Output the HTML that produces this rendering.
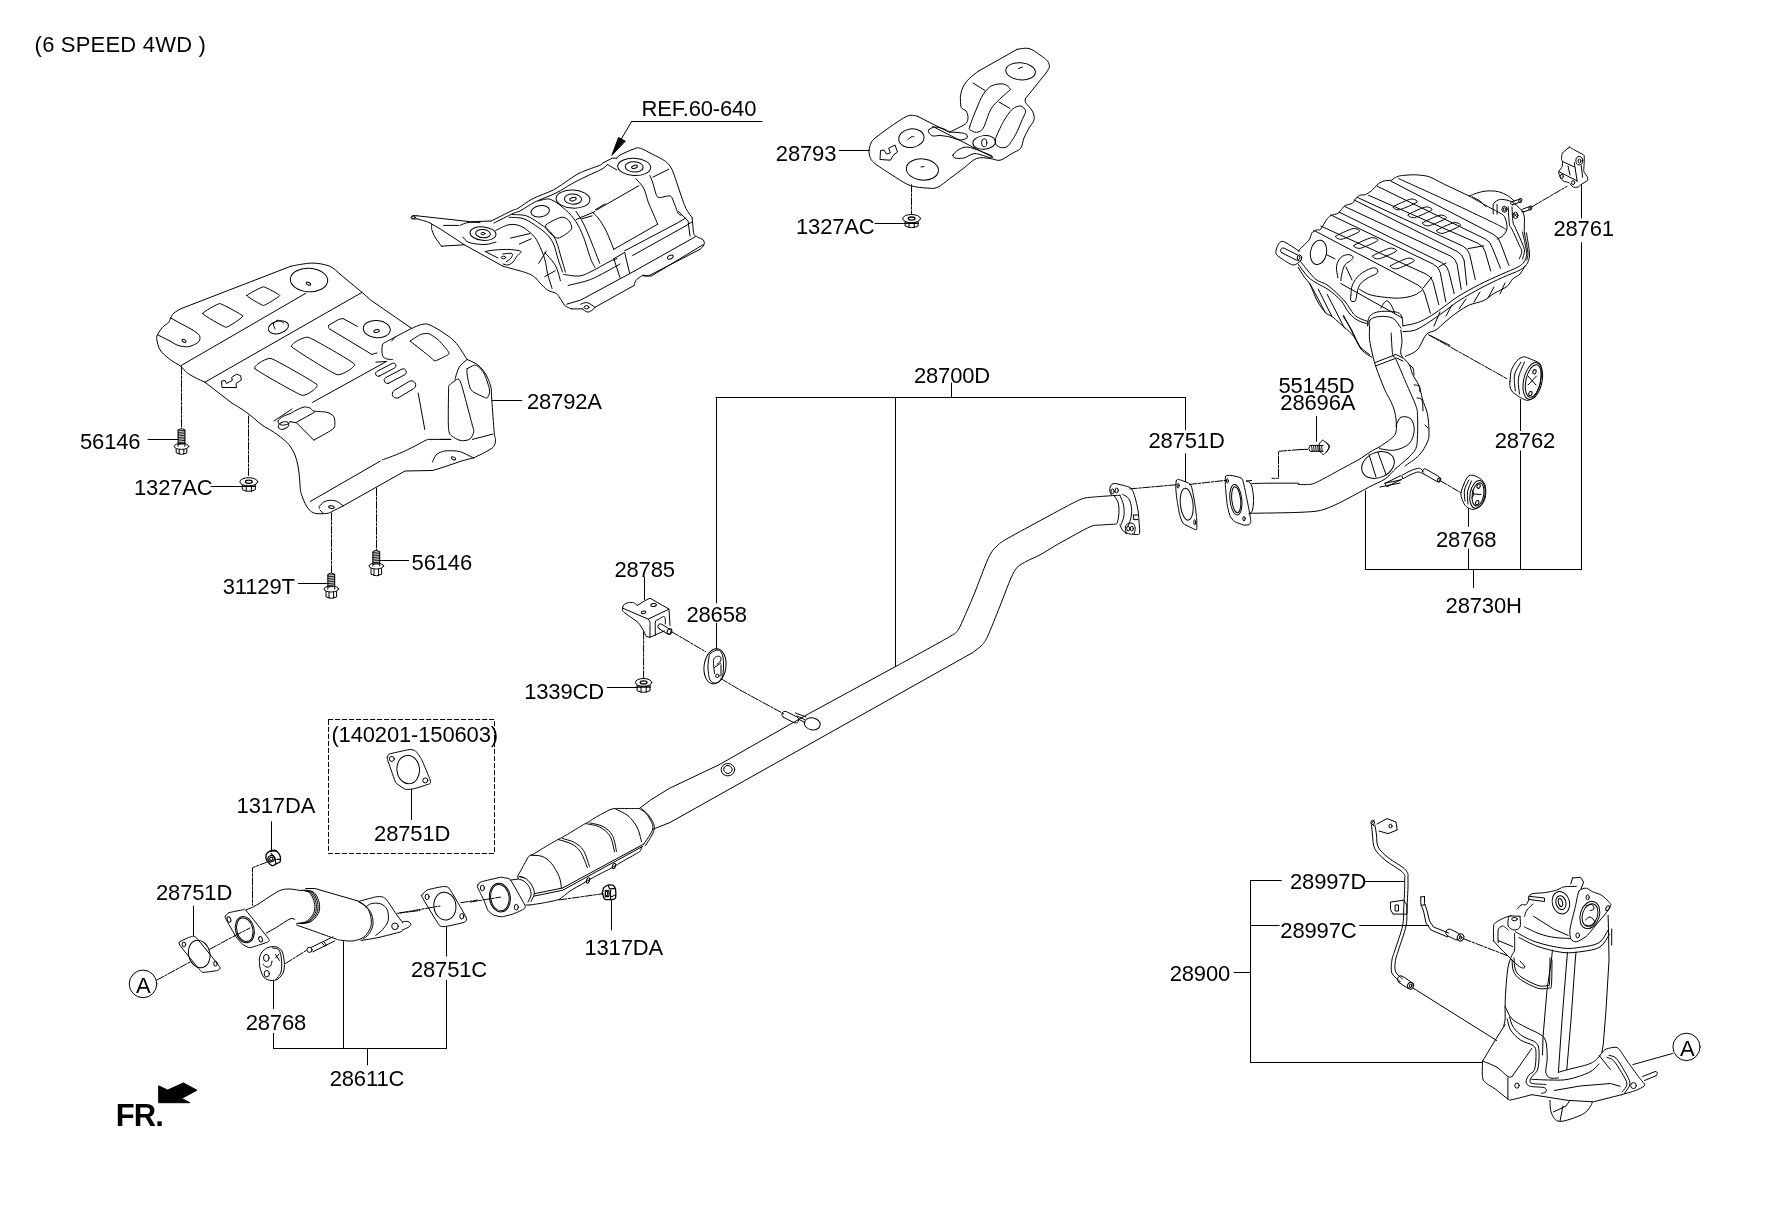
<!DOCTYPE html>
<html><head><meta charset="utf-8"><style>
html,body{margin:0;padding:0;background:#fff;}
svg{display:block;filter:grayscale(100%);}
text{font-family:"Liberation Sans",sans-serif;font-size:22px;letter-spacing:-0.15px;fill:#000;}
</style></head><body>
<svg width="1772" height="1211" viewBox="0 0 1772 1211">
<rect width="1772" height="1211" fill="#fff"/>
<g fill="none" stroke="#000" stroke-width="1" stroke-linejoin="round" stroke-linecap="round">
<ellipse cx="143" cy="983.9" rx="13.8" ry="13.8"/>
<ellipse cx="1686.5" cy="1046.9" rx="13.6" ry="13.7"/>
<polygon points="159,1086 167.6,1090.1 183.4,1082.9 196.9,1090.2 181.7,1098.4 189.9,1102.7 159,1102.7" fill="#000"/>
<line x1="839.4" y1="150.5" x2="869" y2="150.5"/>
<line x1="875" y1="223.5" x2="905.4" y2="223.5"/>
<line x1="911.5" y1="184.7" x2="911.5" y2="214.4" stroke-dasharray="7.5,1.5,2.5,1.5"/>
<line x1="631.6" y1="121.5" x2="762" y2="121.5"/>
<line x1="631.6" y1="121.5" x2="613" y2="153"/>
<path d="M612,155 L618.5,137.5 L625,141 Z" fill="#000"/>
<line x1="1581.5" y1="184.4" x2="1581.5" y2="218"/>
<line x1="1581.5" y1="242.7" x2="1581.5" y2="569.5"/>
<line x1="492" y1="400.5" x2="521.8" y2="400.5"/>
<line x1="148" y1="439.5" x2="178" y2="439.5"/>
<line x1="181.5" y1="367" x2="181.5" y2="428.3" stroke-dasharray="7.5,1.5,2.5,1.5"/>
<line x1="211" y1="486.5" x2="242" y2="486.5"/>
<line x1="248.5" y1="416" x2="248.5" y2="477" stroke-dasharray="7.5,1.5,2.5,1.5"/>
<line x1="380.1" y1="560.5" x2="408.6" y2="560.5"/>
<line x1="376.5" y1="488" x2="376.5" y2="550" stroke-dasharray="7.5,1.5,2.5,1.5"/>
<line x1="298.4" y1="583.5" x2="328" y2="583.5"/>
<line x1="331.5" y1="513" x2="331.5" y2="572.6" stroke-dasharray="7.5,1.5,2.5,1.5"/>
<line x1="716" y1="397.5" x2="1185.4" y2="397.5"/>
<line x1="951.5" y1="383" x2="951.5" y2="397.5"/>
<line x1="716.5" y1="397.5" x2="716.5" y2="603"/>
<line x1="895.5" y1="397.5" x2="895.5" y2="666.6"/>
<line x1="1185.5" y1="397.5" x2="1185.5" y2="429.8"/>
<line x1="1185.5" y1="453.8" x2="1185.5" y2="481.6"/>
<line x1="1316.5" y1="416.3" x2="1316.5" y2="441.3"/>
<line x1="1520.5" y1="399.4" x2="1520.5" y2="430.6"/>
<line x1="1520.5" y1="450.9" x2="1520.5" y2="569.5"/>
<line x1="1468.5" y1="508.4" x2="1468.5" y2="526.4"/>
<line x1="1468.5" y1="549.1" x2="1468.5" y2="569.5"/>
<line x1="1365.1" y1="569.5" x2="1581.5" y2="569.5"/>
<line x1="1365.5" y1="490.9" x2="1365.5" y2="569.5"/>
<line x1="1473.5" y1="569.5" x2="1473.5" y2="587.4"/>
<line x1="644.5" y1="577.2" x2="644.5" y2="599.6"/>
<line x1="716.5" y1="623.2" x2="716.5" y2="649.3"/>
<line x1="607.2" y1="687.5" x2="637.3" y2="687.5"/>
<line x1="643.6" y1="631.8" x2="643.6" y2="678.6" stroke-dasharray="7.5,1.5,2.5,1.5"/>
<line x1="411.5" y1="789.3" x2="411.5" y2="819.6"/>
<line x1="271.5" y1="821.7" x2="271.5" y2="851.4"/>
<polyline points="267.3,862 252.5,867.7 252.5,905.1" stroke-dasharray="7.5,1.5,2.5,1.5"/>
<line x1="193.5" y1="906.1" x2="193.5" y2="935.8"/>
<line x1="446.5" y1="927.3" x2="446.5" y2="956.1"/>
<line x1="446.5" y1="980.3" x2="446.5" y2="1048.5"/>
<line x1="611.5" y1="899.3" x2="611.5" y2="929.8"/>
<line x1="273.5" y1="980.3" x2="273.5" y2="1008.5"/>
<line x1="273.5" y1="1033.4" x2="273.5" y2="1048.5"/>
<line x1="273.5" y1="1048.5" x2="446.5" y2="1048.5"/>
<line x1="343.5" y1="941.6" x2="343.5" y2="1048.5"/>
<line x1="367.5" y1="1048.5" x2="367.5" y2="1065"/>
<line x1="1250.5" y1="880.8" x2="1250.5" y2="1062.5"/>
<line x1="1250.5" y1="880.5" x2="1281.3" y2="880.5"/>
<line x1="1250.5" y1="925.5" x2="1279.2" y2="925.5"/>
<line x1="1234.1" y1="972.5" x2="1250.5" y2="972.5"/>
<line x1="1250.5" y1="1062.5" x2="1482" y2="1062.5"/>
<line x1="1365" y1="881.5" x2="1403.7" y2="881.5"/>
<line x1="1359.7" y1="925.5" x2="1428.4" y2="925.5"/>
<polygon points="328.5,719.5 494.5,719.5 494.5,853.5 328.5,853.5" stroke-dasharray="4.3,2.7"/>
<path d="M1514.5,933.6 C1514.5,936.3 1515,946.4 1514.5,950 C1514,953.6 1512.9,952.4 1511.8,955.4 C1510.7,958.4 1508.9,962.2 1507.9,968 C1506.9,973.8 1506.3,983.6 1505.8,990 C1505.3,996.4 1505.2,1001.5 1505.1,1006.3 C1505,1011.1 1505.3,1015.6 1505.1,1018.9 C1504.9,1022.2 1503.9,1024.8 1503.7,1026"/>
<polyline points="1608.1,915.4 1608.6,935 1609,960 1606,1010 1603.3,1044.2 1601.9,1052.6"/>
<polyline points="1611.7,929 1611.7,945"/>
<path d="M1515.4,931.8 C1518.7,933.5 1527.5,939.1 1535.4,941.8 C1543.3,944.5 1555.1,947.2 1562.7,948.1 C1570.3,949 1574.8,948.1 1580.8,947.2 C1586.8,946.3 1594.5,945.6 1599,942.7 C1603.5,939.8 1606.6,932.1 1608.1,930"/>
<path d="M1519,937.5 C1522.2,939 1530.7,944 1538,946.5 C1545.3,949 1555.7,951.7 1563,952.5 C1570.3,953.3 1575.8,952.4 1582,951.5 C1588.2,950.6 1595.4,949.9 1600,947 C1604.6,944.1 1607.9,936.2 1609.5,934"/>
<path d="M1524.5,927 C1527.1,928.2 1534.9,932.2 1540,934 C1545.1,935.8 1550,936.8 1555,937.5 C1560,938.2 1567.5,938.3 1570,938.5"/>
<path d="M1579,890.9 C1580.3,888.8 1584.7,888.1 1586.3,888.2 C1587.9,888.3 1590.9,891 1592.7,891.8 C1594.5,892.6 1599.6,893.9 1601.7,895.4 C1603.8,896.9 1610.3,902.5 1610.8,904.5 C1611.3,906.5 1607.9,910.5 1606.3,912.7 C1604.7,914.9 1599.5,920.8 1597.2,923.6 C1594.9,926.4 1588.7,934.2 1586.3,936.3 C1583.9,938.4 1578.1,941.5 1576.3,941.8 C1574.5,942.1 1571.5,940.5 1570.8,939 C1570.1,937.5 1569.5,932.8 1570,929 C1570.5,925.2 1574.4,910.7 1575.4,906.3 C1576.5,901.9 1577.7,893 1579,890.9Z"/>
<ellipse cx="1589.8" cy="915" rx="9.5" ry="14" transform="rotate(18 1589.8 915)"/>
<ellipse cx="1590" cy="915" rx="7.5" ry="11.5" transform="rotate(18 1590 915)"/>
<path d="M1586,906 C1587,905.8 1590.7,904 1592,904.5 C1593.3,905 1594.3,908 1594,909 C1593.7,910 1590.7,910.2 1590,910.5"/>
<path d="M1585.5,920 C1586.2,919.5 1588.4,916.7 1590,917 C1591.6,917.3 1594.8,920.5 1595,922 C1595.2,923.5 1592.5,925.5 1591,926 C1589.5,926.5 1586.8,925.2 1586,925"/>
<ellipse cx="1587.7" cy="897.3" rx="1.6" ry="2.5"/>
<ellipse cx="1577.7" cy="935.4" rx="1.8" ry="2.6"/>
<ellipse cx="1607.6" cy="908.2" rx="1.5" ry="2.6" transform="rotate(30 1607.6 908.2)"/>
<path d="M1529.1,896.3 C1529.7,895.8 1530.1,894.2 1532.7,893.6 C1535.3,893 1541,893.2 1544.5,892.7 C1548,892.2 1551.2,891.5 1553.6,890.9 C1556,890.3 1557.2,889.8 1559,889.1 C1560.8,888.4 1561.6,887.2 1564.5,886.8 C1567.4,886.3 1574.3,886.5 1576.3,886.4"/>
<ellipse cx="1560.9" cy="902.7" rx="8.6" ry="11.4" transform="rotate(-15 1560.9 902.7)"/>
<ellipse cx="1560.9" cy="902.7" rx="5" ry="7" transform="rotate(-15 1560.9 902.7)"/>
<ellipse cx="1560.5" cy="902.5" rx="2" ry="4.2" transform="rotate(-15 1560.5 902.5)"/>
<polyline points="1572.5,878 1580.5,877.3 1583.6,882 1581,889.1"/>
<polyline points="1572.5,878 1570.8,884"/>
<polygon points="1529.1,896.3 1544.5,898 1544.5,901.5 1529.1,899.5"/>
<path d="M1517.3,909.1 C1517.9,908.4 1519.5,905.8 1521,905 C1522.5,904.2 1525,905.5 1526.3,904.5 C1527.6,903.5 1528.5,899.9 1529,899"/>
<path d="M1524.5,916.3 C1524.9,915.2 1525.6,912 1527,910 C1528.4,908 1532,905 1533,904"/>
<polyline points="1533.6,916.3 1553.6,929 1568.1,935.4"/>
<ellipse cx="1514.5" cy="919.1" rx="2.8" ry="1.6"/>
<path d="M1508.5,917 C1508.5,918.5 1507.3,923.8 1508.2,926 C1509.1,928.2 1512,929.8 1514,930 C1516,930.2 1519,929.3 1520,927 C1521,924.7 1520,918.1 1520,916.3"/>
<polyline points="1510,915.9 1520,916.3"/>
<path d="M1493.6,940.9 C1493.6,938.5 1493.3,929.3 1493.6,926.3 C1493.9,923.3 1493.6,924.2 1495.5,922.7 C1497.4,921.2 1502.4,918.6 1505,917.5 C1507.6,916.4 1509.9,916.2 1510.9,915.9"/>
<path d="M1498.2,942.7 C1498.2,940.6 1497.6,932.7 1498.2,930 C1498.8,927.3 1500.8,926.8 1501.8,926.3 C1502.8,925.8 1503.4,926.2 1504.5,926.8 C1505.6,927.4 1507.6,929.5 1508.2,930"/>
<polyline points="1498.2,940.5 1512.5,946.5"/>
<path d="M1493.6,940.9 C1494.7,942.1 1497.8,945.6 1500,948 C1502.2,950.4 1504.7,952.7 1507,955 C1509.3,957.3 1511.7,959.9 1514,962 C1516.3,964.1 1519.2,966.7 1521,967.5 C1522.8,968.3 1525.2,968.1 1525,967 C1524.8,965.9 1520.8,962 1520,961"/>
<path d="M1512.1,960 C1512.3,961.9 1512.1,967.9 1513.5,971.2 C1514.9,974.5 1516.5,976.8 1520.5,979.6 C1524.5,982.4 1532.7,986.7 1537.4,988.1 C1542.1,989.5 1546.3,988.6 1548.6,988.1 C1550.9,987.6 1550.8,990 1551.4,985.3 C1552,980.6 1551.9,964.2 1552,960"/>
<path d="M1514,958 C1514.2,960 1514.2,966.8 1515.5,970 C1516.8,973.2 1518.2,974.9 1522,977.5 C1525.8,980.1 1533.8,984.2 1538,985.5 C1542.2,986.8 1545.6,985.9 1547.5,985.5 C1549.4,985.1 1549.1,987.6 1549.5,983 C1549.9,978.4 1549.9,962.2 1550,958"/>
<polyline points="1551.4,960 1547,990 1543,1037.2 1542.5,1055"/>
<polyline points="1566.8,960 1562,1020 1558.4,1072.3"/>
<polyline points="1575.3,960 1571,1020 1566.8,1069.5"/>
<polyline points="1551.4,960 1552.5,950"/>
<polyline points="1566.8,960 1567.5,952.5"/>
<polyline points="1575.3,960 1576,952"/>
<path d="M1505.1,1006.3 C1506.3,1008.4 1508.6,1015.4 1512.1,1018.9 C1515.6,1022.4 1521.4,1024.8 1526.1,1027.4 C1530.8,1030 1536.9,1032.1 1540.2,1034.4 C1543.5,1036.7 1544.6,1037.4 1545.8,1041.4 C1547,1045.4 1547.2,1053.1 1547.2,1058.2 C1547.2,1063.3 1545.3,1069 1545.8,1072.3 C1546.3,1075.6 1547.9,1077 1550,1077.9 C1552.1,1078.8 1557,1077.9 1558.4,1077.9"/>
<path d="M1507.2,1018.9 C1507.8,1020.8 1508.5,1026.7 1510.7,1030.2 C1512.9,1033.7 1516.8,1037.4 1520.5,1040 C1524.2,1042.6 1530.6,1043.5 1533.2,1045.6 C1535.8,1047.7 1535.8,1048.6 1536,1052.6 C1536.2,1056.6 1535.8,1065.8 1534.6,1069.5 C1533.4,1073.2 1530.3,1073 1528.9,1075.1 C1527.5,1077.2 1525.8,1080.2 1526.1,1082.1 C1526.3,1084 1527.4,1085.4 1530.4,1086.3 C1533.5,1087.2 1541.8,1086.8 1544.4,1087.7 C1547,1088.6 1546.3,1091 1545.8,1091.9 C1545.3,1092.8 1542.3,1093.1 1541.6,1093.3"/>
<path d="M1509.5,1017 C1510.2,1018.8 1511.2,1024.2 1513.5,1027.5 C1515.8,1030.8 1519.3,1034 1523,1036.5 C1526.7,1039 1533.1,1040.1 1535.8,1042.5 C1538.5,1044.9 1538.7,1046.6 1539,1051 C1539.3,1055.4 1539,1064.8 1537.8,1069 C1536.6,1073.2 1533.3,1074.5 1532,1076.5 C1530.7,1078.5 1529.9,1079.8 1530,1081 C1530.1,1082.2 1529.8,1082.9 1532.5,1083.5 C1535.2,1084.1 1543.8,1084.3 1546,1084.5"/>
<path d="M1558.4,1072.3 C1560,1071.8 1563.1,1070.9 1568.2,1069.5 C1573.3,1068.1 1584.4,1065.8 1589.3,1063.9 C1594.2,1062 1595.6,1060.1 1597.7,1058.2 C1599.8,1056.3 1601.2,1053.5 1601.9,1052.6"/>
<path d="M1531.8,1079.3 C1534.8,1079.4 1543.9,1080 1550,1080 C1556.1,1080 1561.7,1080.6 1568.2,1079.3 C1574.8,1078 1584.2,1074.9 1589.3,1072.3 C1594.4,1069.7 1597.5,1065.3 1599.1,1063.9"/>
<polyline points="1482.6,1061.1 1495.3,1040 1505.1,1024.6"/>
<path d="M1482.6,1061.1 C1482.6,1063.9 1481.9,1074.2 1482.6,1077.9 C1483.3,1081.6 1484.7,1081.6 1486.8,1083.5 C1488.9,1085.4 1491.8,1086.5 1495.3,1089.1 C1498.8,1091.7 1505.1,1097.2 1507.9,1099 C1510.7,1100.8 1508.1,1100.3 1512.1,1099.6 C1516.1,1098.9 1528.5,1095.5 1531.8,1094.7"/>
<path d="M1482.6,1061.1 C1483.8,1061.6 1487.4,1062.8 1490,1064 C1492.6,1065.2 1495.1,1066 1498.1,1068.1 C1501.1,1070.2 1505.6,1075.1 1507.9,1076.5 C1510.2,1077.9 1511.4,1076.5 1512.1,1076.5"/>
<polyline points="1512.1,1076.5 1531.8,1048.4"/>
<line x1="1507.9" y1="1077.9" x2="1507.9" y2="1099"/>
<ellipse cx="1517" cy="1085.6" rx="2.2" ry="2.6"/>
<path d="M1601.9,1052.6 C1602.4,1052.2 1604.3,1049.7 1606.1,1049.1 C1607.9,1048.5 1614.9,1046.3 1617.4,1047.7 C1619.9,1049.1 1624.8,1057.7 1627.2,1061.1 C1629.7,1064.5 1636.4,1073.9 1638.4,1076.5 C1640.4,1079.1 1643.3,1082.4 1644,1083.5 C1644.7,1084.6 1645,1085.5 1644,1086.3 C1643,1087.1 1638.2,1089.5 1635.6,1090.5 C1633,1091.5 1623.2,1094.2 1621.6,1094.7"/>
<path d="M1609,1055.4 C1610.2,1055.9 1613.4,1055.6 1616,1058.2 C1618.6,1060.8 1622.1,1066.7 1624.4,1070.9 C1626.7,1075.1 1630,1079.8 1630,1083.5 C1630,1087.2 1625.3,1091.7 1624.4,1093.3"/>
<path d="M1607,1057.5 C1608.1,1058 1611.1,1058 1613.5,1060.5 C1615.9,1063 1619.2,1068.6 1621.5,1072.5 C1623.8,1076.4 1626.9,1080.8 1627,1084 C1627.1,1087.2 1622.8,1090.7 1622,1092"/>
<ellipse cx="1633.5" cy="1085.6" rx="2.8" ry="3"/>
<polyline points="1642.6,1076.5 1655.3,1071.5"/>
<path d="M1655.3,1071.5 C1655.7,1071.7 1657.4,1072.1 1657.5,1072.8 C1657.6,1073.5 1656.2,1075.3 1656,1075.8"/>
<polyline points="1656,1075.8 1644.5,1080.5"/>
<polyline points="1599.1,1055.4 1610.4,1069.5"/>
<polyline points="1531.8,1094.7 1568.2,1100.4 1593.5,1101.8 1621.6,1094.7"/>
<polyline points="1554.2,1090.5 1580,1086 1610.4,1083.5 1620.2,1086.3"/>
<path d="M1550,1100.4 C1550.2,1102.5 1549.8,1109.5 1551.4,1113 C1553,1116.5 1554.7,1121.2 1559.8,1121.4 C1564.9,1121.6 1577.1,1117 1582.3,1114.4 C1587.5,1111.8 1589.1,1108.1 1590.7,1106 C1592.3,1103.9 1591.9,1102.5 1592.1,1101.8"/>
<polyline points="1553.5,1112 1566,1106 1570,1100.4"/>
<polyline points="1560,1121 1563,1106"/>
<line x1="1632.8" y1="1064.6" x2="1672.5" y2="1053.5"/>
<line x1="1463.8" y1="938.8" x2="1507.9" y2="955.9" stroke-dasharray="7.5,1.5,2.5,1.5"/>
<line x1="1413.3" y1="988.2" x2="1496.8" y2="1040.6"/>
<polyline points="1374,820 1371.5,823.5 1374,826"/>
<ellipse cx="1372.7" cy="822.5" rx="1.8" ry="2.2"/>
<polyline points="1377,824 1387,818.6 1396,822 1397.2,830 1388,833.6 1379,831"/>
<ellipse cx="1390.5" cy="826" rx="1.6" ry="1.8"/>
<path d="M1371.5,825 C1371.7,826.7 1372,831.1 1372.5,835 C1373,838.9 1372.6,844.4 1374.7,848.6 C1376.8,852.8 1380.3,856 1385,860 C1389.7,864 1399.3,868.8 1402.6,872.3 C1405.9,875.8 1404.5,874.7 1404.7,880.8 C1404.9,886.9 1404.1,901.3 1403.7,908.8 C1403.3,916.3 1404,919 1402.6,925.9 C1401.1,932.8 1396.8,944.3 1395,950 C1393.2,955.7 1392.4,956.4 1391.9,960.3 C1391.4,964.2 1390.5,969.6 1391.9,973.2 C1393.3,976.8 1399,980.3 1400.4,981.7"/>
<path d="M1375,825 C1375.2,826.7 1376,831.3 1376.5,835 C1377,838.7 1376.3,843.2 1378.2,847 C1380.1,850.8 1383.4,853.7 1388,857.5 C1392.6,861.3 1402.3,866.1 1405.6,870 C1408.9,873.9 1407.8,874.3 1408,880.8 C1408.2,887.3 1407.3,901.3 1407,908.8 C1406.7,916.3 1407.4,919.1 1406,926 C1404.6,932.9 1400.2,944.3 1398.5,950 C1396.8,955.7 1396,956.7 1395.5,960.3 C1395,963.9 1394.3,968.4 1395.5,971.5 C1396.7,974.6 1401.3,977.8 1402.5,979"/>
<polygon points="1390.8,902 1403.7,900.2 1406.9,905 1406.9,914.1 1393,914.1 1390.8,910"/>
<polygon points="1395.5,905 1398.5,905 1398.5,911 1395.5,911"/>
<path d="M1399.0,982.5 L1406.5,987.5 A3.6,3.6 0 0 0 1410.5,981.5 L1403.0,976.5 A3.6,3.6 0 0 0 1399.0,982.5 Z"/>
<ellipse cx="1410.5" cy="985.7" rx="3" ry="3.4" transform="rotate(30 1410.5 985.7)"/>
<ellipse cx="1410.6" cy="985.8" rx="1.3" ry="1.6"/>
<polyline points="1420.8,897 1420.8,904 1423.5,911 1426,923 1431,930 1447.7,937"/>
<polyline points="1424.5,896.5 1424.5,903.5 1427,910.5 1429.5,921 1433.5,927 1448.5,933"/>
<polyline points="1420.8,897 1424.5,896.5"/>
<polyline points="1421,905.5 1425,904.5"/>
<path d="M1447.4,935.7 L1455.4,939.7 A3.6,3.6 0 0 0 1458.6,933.3 L1450.6,929.3 A3.6,3.6 0 0 0 1447.4,935.7 Z"/>
<ellipse cx="1460.5" cy="937.5" rx="3.2" ry="3.6" transform="rotate(30 1460.5 937.5)"/>
<ellipse cx="1460.6" cy="937.6" rx="1.3" ry="1.6"/>
<path d="M178.1,446.4 L178.1,429.8 Q181.5,427.5 184.9,429.8 L184.9,446.4"/>
<line x1="178.1" y1="430.8" x2="184.9" y2="430.2" stroke-width="0.9"/>
<line x1="178.1" y1="432.5" x2="184.9" y2="431.9" stroke-width="0.9"/>
<line x1="178.1" y1="434.2" x2="184.9" y2="433.6" stroke-width="0.9"/>
<line x1="178.1" y1="435.9" x2="184.9" y2="435.3" stroke-width="0.9"/>
<line x1="178.1" y1="437.6" x2="184.9" y2="437" stroke-width="0.9"/>
<line x1="178.1" y1="439.3" x2="184.9" y2="438.7" stroke-width="0.9"/>
<line x1="178.1" y1="441" x2="184.9" y2="440.4" stroke-width="0.9"/>
<line x1="178.1" y1="442.7" x2="184.9" y2="442.1" stroke-width="0.9"/>
<line x1="178.1" y1="444.4" x2="184.9" y2="443.8" stroke-width="0.9"/>
<ellipse cx="181.5" cy="446.4" rx="7.3" ry="3"/>
<path d="M176.2,449.0 L176.2,452.9 Q181.5,455.9 186.8,452.9 L186.8,449.0"/>
<line x1="179.2" y1="449.4" x2="179.2" y2="454.2"/>
<line x1="183.8" y1="449.4" x2="183.8" y2="454.2"/>
<path d="M372.9,566.0 L372.9,551.5 Q376.3,549.2 379.7,551.5 L379.7,566.0"/>
<line x1="372.9" y1="552.5" x2="379.7" y2="551.9" stroke-width="0.9"/>
<line x1="372.9" y1="554.2" x2="379.7" y2="553.6" stroke-width="0.9"/>
<line x1="372.9" y1="555.9" x2="379.7" y2="555.3" stroke-width="0.9"/>
<line x1="372.9" y1="557.6" x2="379.7" y2="557" stroke-width="0.9"/>
<line x1="372.9" y1="559.3" x2="379.7" y2="558.7" stroke-width="0.9"/>
<line x1="372.9" y1="561" x2="379.7" y2="560.4" stroke-width="0.9"/>
<line x1="372.9" y1="562.7" x2="379.7" y2="562.1" stroke-width="0.9"/>
<line x1="372.9" y1="564.4" x2="379.7" y2="563.8" stroke-width="0.9"/>
<ellipse cx="376.3" cy="566" rx="7.3" ry="3"/>
<path d="M371.0,568.6 L371.0,574.3 Q376.3,577.3 381.6,574.3 L381.6,568.6"/>
<line x1="374" y1="569" x2="374" y2="575.6"/>
<line x1="378.6" y1="569" x2="378.6" y2="575.6"/>
<path d="M327.9,589.0 L327.9,574.1 Q331.3,571.8 334.7,574.1 L334.7,589.0"/>
<line x1="327.9" y1="575.1" x2="334.7" y2="574.5" stroke-width="0.9"/>
<line x1="327.9" y1="576.8" x2="334.7" y2="576.2" stroke-width="0.9"/>
<line x1="327.9" y1="578.5" x2="334.7" y2="577.9" stroke-width="0.9"/>
<line x1="327.9" y1="580.2" x2="334.7" y2="579.6" stroke-width="0.9"/>
<line x1="327.9" y1="581.9" x2="334.7" y2="581.3" stroke-width="0.9"/>
<line x1="327.9" y1="583.6" x2="334.7" y2="583" stroke-width="0.9"/>
<line x1="327.9" y1="585.3" x2="334.7" y2="584.7" stroke-width="0.9"/>
<line x1="327.9" y1="587" x2="334.7" y2="586.4" stroke-width="0.9"/>
<ellipse cx="331.3" cy="589" rx="7.3" ry="3"/>
<path d="M326.0,591.6 L326.0,596.9 Q331.3,599.9 336.6,596.9 L336.6,591.6"/>
<line x1="329" y1="592" x2="329" y2="598.2"/>
<line x1="333.6" y1="592" x2="333.6" y2="598.2"/>
<ellipse cx="248.8" cy="481.8" rx="8.9" ry="4.1"/>
<ellipse cx="248.8" cy="481.8" rx="3.4" ry="1.6" stroke-width="1.3"/>
<path d="M242.3,484.8 L242.3,489.7 Q248.8,492.9 255.3,489.7 L255.3,484.8"/>
<line x1="246.2" y1="485.8" x2="246.2" y2="491.4"/>
<line x1="251.4" y1="485.8" x2="251.4" y2="491.4"/>
<line x1="242.3" y1="486.4" x2="255.3" y2="486.4" stroke-width="1.4"/>
<ellipse cx="911.6" cy="218.6" rx="8.9" ry="4.1"/>
<ellipse cx="911.6" cy="218.6" rx="3.4" ry="1.6" stroke-width="1.3"/>
<path d="M905.1,221.6 L905.1,226.0 Q911.6,229.2 918.1,226.0 L918.1,221.6"/>
<line x1="909" y1="222.6" x2="909" y2="227.7"/>
<line x1="914.2" y1="222.6" x2="914.2" y2="227.7"/>
<line x1="905.1" y1="223.2" x2="918.1" y2="223.2" stroke-width="1.4"/>
<ellipse cx="643.6" cy="682.4" rx="8.2" ry="3.9"/>
<ellipse cx="643.6" cy="682.4" rx="3.4" ry="1.6" stroke-width="1.3"/>
<path d="M637.1,685.4 L637.1,690.7 Q643.6,693.9 650.1,690.7 L650.1,685.4"/>
<line x1="641" y1="686.4" x2="641" y2="692.4"/>
<line x1="646.2" y1="686.4" x2="646.2" y2="692.4"/>
<line x1="637.1" y1="687" x2="650.1" y2="687" stroke-width="1.4"/>
<path d="M639.3,808.5 C638.1,808.5 629.4,808.5 627,808.5 C624.6,808.5 617.3,808.4 615.6,808.5 C613.9,808.6 611.8,808.9 610,809.6 C608.2,810.4 600.3,814.7 598,816 C595.7,817.3 588.8,821.8 587.4,822.6 C586,823.4 585.4,823.5 584,824.3 C582.6,825.1 575.1,829.7 573,831 C570.9,832.3 564.1,836.4 562.6,837.2 C561.1,838.1 559.8,838.5 558,839.5 C556.2,840.5 547.5,845.5 545,847 C542.5,848.5 534.8,853.3 533.2,854.2 C531.6,855.1 529.6,855.4 528.7,856.4 C527.8,857.4 525.3,862.3 524.2,864.3 C523.1,866.3 518.1,875.5 517.4,876.7"/>
<path d="M639.3,808.5 C640.4,809.3 644,811.1 646.1,813.5 C648.2,815.9 650.6,820.1 651.7,822.6 C652.8,825.1 653,826.3 652.8,828.2 C652.6,830.1 652.1,831.3 650.6,833.9 C649.1,836.5 644.9,842.3 643.8,844"/>
<path d="M641,808.5 C642.2,809.5 645.9,812 648,814.5 C650.1,817 652.5,821.1 653.5,823.5 C654.5,825.9 654.5,827.1 654.2,829 C654,830.9 653.5,832.2 652,835 C650.5,837.8 646.6,843.8 645.5,845.5"/>
<polyline points="643.8,844 562.6,888 534.3,893.7"/>
<polyline points="642.7,846.3 562.6,890.3 534.5,896"/>
<path d="M641.6,847.4 C641.4,847.9 641,850.6 639.3,851.9 C637.6,853.2 627.9,858.3 625,860 C622.1,861.7 613,867.1 610,868.8 C607,870.4 597.7,875 595,876.5 C592.3,878 585.4,882 582.9,883.5 C580.4,885 572.4,889.4 570,891 C567.6,892.6 561.8,898.1 559.2,899.3 C556.7,900.5 547.4,902.1 544.5,902.7 C541.6,903.3 531.3,904.8 529.8,905"/>
<ellipse cx="588" cy="880.5" rx="1.5" ry="2.8" transform="rotate(20 588 880.5)"/>
<ellipse cx="614" cy="866" rx="1.5" ry="2.8" transform="rotate(20 614 866)"/>
<path d="M531,855.3 C532.9,855.5 538.8,855.1 542.2,856.4 C545.6,857.7 548.5,859.8 551.3,863.2 C554.1,866.6 557.5,872.6 559.2,876.7 C560.9,880.8 561,886.1 561.4,888"/>
<path d="M558,839.5 C560.3,840.2 567.8,841.9 571.6,844 C575.4,846.1 578,847.9 580.6,851.9 C583.2,855.9 586.3,865.1 587.4,867.7"/>
<path d="M562.5,838.5 C564.5,839.2 571,840.5 574.5,842.5 C578,844.5 581,846.5 583.5,850.5 C586,854.5 588.5,863.8 589.5,866.5"/>
<path d="M586.3,823.7 C588.5,824.3 595.8,825 599.8,827.1 C603.8,829.2 607.5,832 610,836.1 C612.5,840.2 613.8,849.3 614.5,851.9"/>
<path d="M590,823 C592.2,823.6 599.2,824.4 603,826.5 C606.8,828.6 610.2,831.3 612.5,835.5 C614.8,839.7 615.8,848.8 616.5,851.5"/>
<path d="M615.6,809 C617.7,810.1 624.4,812.8 628,815.8 C631.6,818.8 634.7,822.8 637,827.1 C639.3,831.4 640.8,839.3 641.6,841.8"/>
<path d="M517.4,877.9 C517.8,877.7 518.9,876.5 520,876.5 C521.1,876.5 523.5,877.7 524.2,877.9"/>
<path d="M519.7,876.7 C520.8,877.1 524.3,877.5 526.4,879 C528.5,880.5 530.8,883.3 532.1,885.8 C533.4,888.2 534.5,891.1 534.3,893.7 C534.1,896.3 531.5,900.3 530.9,901.6"/>
<path d="M518.5,879 C519.5,879.4 522.7,880.1 524.5,881.5 C526.3,882.9 528.4,885.2 529.5,887.5 C530.6,889.8 531.2,892.6 531,895 C530.8,897.4 528.5,900.8 528,902"/>
<polyline points="510.6,880.1 518.5,879"/>
<polyline points="526,905 530,905"/>
<path d="M477.9,884.7 C478.2,884.2 479.4,882.4 481.3,881.8 C483.2,881.2 498.5,877.6 500.5,877.3 C502.5,877 504.2,877.7 505,877.9 C505.8,878.1 509,877.9 510.6,880.1 C512.2,882.3 523,901.5 524.2,903.8 C525.4,906.1 525.4,906.7 525.3,907.2 C525.2,907.7 524,908.9 523,909.5 C522,910.1 514.7,913.4 512.9,914 C511.1,914.6 503.2,916.7 501.6,916.8 C500,916.9 494.8,915.6 493.7,915.1 C492.6,914.6 489,911.9 488.1,910.6 C487.2,909.3 484.4,901.2 483.5,899.3 C482.6,897.4 478.4,889.2 477.9,888 C477.4,886.8 477.6,885.2 477.9,884.7Z"/>
<ellipse cx="499.9" cy="897.6" rx="10.4" ry="14.4" transform="rotate(-8 499.9 897.6)"/>
<ellipse cx="499.9" cy="897.6" rx="9.2" ry="13.2" transform="rotate(-8 499.9 897.6)"/>
<ellipse cx="482.4" cy="888" rx="2" ry="2.8"/>
<ellipse cx="516.3" cy="907.2" rx="2" ry="2.8"/>
<line x1="470" y1="902.1" x2="500.5" y2="897.1" stroke-dasharray="7.5,1.5,2.5,1.5"/>
<line x1="559.2" y1="899.9" x2="603.2" y2="893.7" stroke-dasharray="7.5,1.5,2.5,1.5"/>
<path d="M602.8,891.4 C602.9,891 603.1,889.2 603.3,888.7 C603.5,888.2 604.4,887.1 604.9,886.8 C605.4,886.4 607.4,885.4 608.2,885.2 C609,885 611.9,885 612.6,885.2 C613.3,885.4 614.7,887.2 615,887.6 C615.3,888 615.5,888.5 615.6,889.5 C615.7,890.5 615.8,896.6 615.6,897.6 C615.4,898.6 614.4,899 614,899.2 C613.6,899.4 612.4,899.6 611.5,899.6 C610.6,899.6 606.1,899.8 605.3,899.6 C604.5,899.4 603.9,898 603.7,897.6 C603.5,897.2 603.4,896.4 603.3,895.9 C603.1,895.4 602.2,893.2 602.2,892.8 C602.2,892.3 602.7,891.8 602.8,891.4Z" stroke-width="1.3"/>
<path d="M605.3,890.5 L608.3,890.5 Q609,891 609,892 L609,895.6 Q609,896.7 608,896.7 L605.3,896.7 Z" stroke-width="1.2"/>
<path d="M606.3,891.5 L607.6,891.5 L607.6,895.6 L606.3,895.6" stroke-width="1"/>
<line x1="610.5" y1="890.3" x2="610.5" y2="899.4" stroke-width="1.2"/>
<polyline points="608.2,885.2 609.5,888.9 614.6,888.7" stroke-width="1.2"/>
<line x1="613.2" y1="895.3" x2="615.4" y2="895.3" stroke-width="1.1"/>
<line x1="611.1" y1="896.5" x2="612.8" y2="896.5" stroke-width="1.1"/>
<path d="M422,895.1 C422.4,894.5 425.4,890.7 427.1,890 C428.8,889.3 440.5,886.8 442.3,886.7 C444.1,886.6 447.1,885.8 449.1,888.3 C451.1,890.8 464.7,914.3 466,917.1 C467.3,919.9 466,921.4 464.3,922.2 C462.6,923 447.8,926.2 445.7,926.4 C443.6,926.6 440.9,927.2 438.9,924.7 C436.9,922.2 423.4,899.3 422,896.8 C420.6,894.3 421.6,895.7 422,895.1Z"/>
<ellipse cx="444.9" cy="906.1" rx="11" ry="14" transform="rotate(-8 444.9 906.1)"/>
<ellipse cx="427.1" cy="896.8" rx="2" ry="2.8"/>
<ellipse cx="461.8" cy="916.3" rx="2" ry="2.8"/>
<line x1="400" y1="912.9" x2="440" y2="906" stroke-dasharray="7.5,1.5,2.5,1.5"/>
<line x1="460.9" y1="902.7" x2="478" y2="900" stroke-dasharray="7.5,1.5,2.5,1.5"/>
<path d="M387.5,757.1 C387.7,756.6 387.6,754.6 389.4,754 C391.2,753.4 407,749.9 409.2,749.6 C411.4,749.3 414.4,750.1 415.4,750.9 C416.4,751.7 420.4,757.1 421.6,759.5 C422.8,761.9 429.5,778 430.2,780 C430.9,782 430.9,783 429.6,783.7 C428.3,784.4 416.1,788.2 414.1,788.7 C412.1,789.2 406.9,789.7 405.5,789.3 C404.1,788.9 397.7,784.4 396.8,783.7 C395.9,783 395.7,782.6 394.9,780.6 C394.1,778.6 388.1,761.5 387.5,759.5 C386.9,757.5 387.3,757.6 387.5,757.1Z"/>
<ellipse cx="408.2" cy="769.5" rx="11.3" ry="14.2" transform="rotate(-6 408.2 769.5)"/>
<ellipse cx="391.8" cy="758.9" rx="2.5" ry="2.5"/>
<ellipse cx="425.3" cy="780.4" rx="2.5" ry="2.5"/>
<path d="M225.6,916.1 C225.9,915.6 227.6,913.2 229,912.7 C230.4,912.2 241.2,910.1 242.6,909.9 C244,909.7 243.8,908.1 246,910.5 C248.2,912.9 266.7,936.1 268.5,938.7 C270.3,941.3 268.6,941.4 267.4,942.1 C266.2,942.8 255.4,946.1 253.9,946.6 C252.4,947.1 250.2,947.9 249.3,947.7 C248.4,947.5 243.7,945.2 242.6,944.3 C241.5,943.4 237.2,938.6 235.8,936.4 C234.4,934.2 226.4,920.1 225.6,918.4 C224.8,916.7 225.3,916.6 225.6,916.1Z"/>
<ellipse cx="244.8" cy="929.7" rx="9.3" ry="13.3" transform="rotate(-14 244.8 929.7)"/>
<ellipse cx="244.8" cy="929.7" rx="8" ry="12" transform="rotate(-14 244.8 929.7)"/>
<ellipse cx="229" cy="919.5" rx="1.8" ry="2.8" transform="rotate(-20 229 919.5)"/>
<ellipse cx="260.6" cy="939.3" rx="1.8" ry="2.8" transform="rotate(-20 260.6 939.3)"/>
<path d="M246,909.9 C247.1,909.4 250.3,908.3 252.7,907.1 C255.1,905.9 257.6,904.5 260.6,902.6 C263.6,900.7 267.4,897.9 270.8,895.8 C274.2,893.7 277.7,891.3 280.9,890.2 C284.1,889.1 286.6,888.9 290,889 C293.4,889.1 299.4,890.4 301.3,890.7"/>
<path d="M266.3,933 C268,932.1 272.4,929.8 276.4,927.4 C280.3,925 287,920.2 290,918.9 C293,917.6 293.8,919.4 294.5,919.5"/>
<path d="M301.3,890.2 C302.6,890.6 307.1,890.7 309.2,892.4 C311.3,894.1 312.8,897.7 313.7,900.3 C314.6,902.9 315,905.8 314.8,908.2 C314.6,910.7 314.1,912.7 312.6,915 C311.1,917.3 308.5,920.4 305.8,921.8 C303.1,923.2 298.2,923.2 296.7,923.5"/>
<path d="M302.9,890.2 C304.2,890.6 308.7,890.7 310.8,892.4 C312.9,894.1 314.4,897.7 315.3,900.3 C316.2,902.9 316.6,905.8 316.4,908.2 C316.2,910.7 315.7,912.7 314.2,915 C312.7,917.3 310.1,920.4 307.4,921.8 C304.8,923.2 299.8,923.2 298.3,923.5"/>
<path d="M304.5,890.2 C305.8,890.6 310.3,890.7 312.4,892.4 C314.5,894.1 316,897.7 316.9,900.3 C317.8,902.9 318.2,905.8 318,908.2 C317.8,910.7 317.3,912.7 315.8,915 C314.3,917.3 311.6,920.4 309,921.8 C306.4,923.2 301.4,923.2 299.9,923.5"/>
<path d="M306.1,890.2 C307.4,890.6 311.9,890.7 314,892.4 C316.1,894.1 317.6,897.7 318.5,900.3 C319.4,902.9 319.8,905.8 319.6,908.2 C319.4,910.7 318.9,912.7 317.4,915 C315.9,917.3 313.2,920.4 310.6,921.8 C308,923.2 303,923.2 301.5,923.5"/>
<polyline points="305.8,888.5 314.8,888.5 357.7,900.9"/>
<path d="M296.7,925.1 C299.8,926.2 308.6,929.2 315,931.5 C321.4,933.8 330.6,937.2 335.1,938.7 C339.6,940.2 338.9,940 341.9,940.4 C344.9,940.8 350,941.2 353.2,940.9 C356.4,940.6 359.8,939.1 361.1,938.7"/>
<path d="M357.7,900.9 C359,901.8 363.5,903.8 365.6,906 C367.7,908.2 369.2,910.7 370.1,913.9 C371,917.1 371.8,921.7 371.2,925.1 C370.6,928.5 368.4,931.9 366.7,934.2 C365,936.5 362,938 361.1,938.7"/>
<path d="M359,902 C360.3,902.9 364.9,905.3 367,907.5 C369.1,909.7 370.8,912 371.8,915 C372.8,918 373.4,922.2 372.8,925.5 C372.2,928.8 370.1,932.2 368.5,934.5 C366.9,936.8 363.9,938.2 363,939"/>
<path d="M358.8,901.4 C360.5,900.9 373.4,897.4 375.8,896.9 C378.2,896.4 381.4,896.6 382.5,896.9 C383.6,897.2 385.6,898.6 387,900.3 C388.4,902 394.5,911.6 396.1,913.9 C397.7,916.2 402.1,922 402.8,922.9"/>
<path d="M402.8,929.7 C402.6,929.9 403.1,931.1 400.6,931.9 C398.1,932.7 382,936.7 378,937.6 C374,938.5 362.7,940.2 361,940.5"/>
<path d="M365.6,907.1 C366.5,906.5 368.8,904.3 371.2,903.7 C373.6,903.1 377.7,902.8 380.3,903.7 C382.9,904.6 385.7,906.5 387,909.3 C388.3,912.1 388.9,917.2 388.2,920.6 C387.4,924 384.6,927.2 382.5,929.7 C380.4,932.2 376.9,934.4 375.8,935.3"/>
<ellipse cx="395" cy="926.3" rx="3.3" ry="3.3"/>
<path d="M402.8,921.8 C403.7,921.8 406.6,921 408,921.5 C409.4,922 410.9,923.5 410.9,924.5 C410.9,925.5 409.4,926.6 408,927.5 C406.6,928.4 403.7,929.3 402.8,929.7"/>
<line x1="397.2" y1="913.3" x2="420" y2="910.5" stroke-dasharray="7.5,1.5,2.5,1.5"/>
<line x1="157" y1="980" x2="190.6" y2="961.7" stroke-dasharray="7.5,1.5,2.5,1.5"/>
<line x1="209.8" y1="949.2" x2="234.7" y2="935.8" stroke-dasharray="7.5,1.5,2.5,1.5"/>
<line x1="234.7" y1="935.8" x2="250" y2="928" stroke-dasharray="7.5,1.5,2.5,1.5"/>
<path d="M180,941.6 C180.9,940.9 189.2,937.1 190.6,936.8 C192,936.5 193.9,935.2 196.3,937.7 C198.7,940.2 217.6,963.8 219.4,966.5 C221.2,969.2 218.7,969.9 217.4,970.4 C216.1,970.9 205.4,972.3 204,972.3 C202.6,972.3 202.2,972.6 200.2,970.4 C198.2,968.2 181.7,947.8 180,945.4 C178.3,943 179.1,942.3 180,941.6Z"/>
<ellipse cx="199.2" cy="954" rx="10.6" ry="13.9" transform="rotate(-14 199.2 954)"/>
<ellipse cx="183.9" cy="944.5" rx="1.8" ry="2.4"/>
<ellipse cx="215.5" cy="963.6" rx="1.8" ry="2.4"/>
<path d="M266.3,854.2 C266.5,853.5 267.8,852.5 268.3,852.1 C268.8,851.8 270.5,850.9 271.2,850.7 C271.9,850.5 274.7,850 275.5,850.3 C276.3,850.6 278.5,853.2 279,853.9 C279.5,854.6 280.3,856.6 280.4,857.3 C280.5,858 280.5,860.3 280.4,860.8 C280.3,861.3 279.8,862.2 279.3,862.5 C278.8,862.8 276.4,863.7 275.8,864 C275.2,864.3 274.2,865.3 273.8,865.4 C273.4,865.5 272.1,865.7 271.5,865.4 C270.9,865.1 268.5,862.6 268,862 C267.5,861.4 266.5,860.2 266.3,859.4 C266.1,858.6 266.1,854.9 266.3,854.2Z" stroke-width="1.3"/>
<ellipse cx="271.3" cy="858.7" rx="3.4" ry="3" transform="rotate(-30 271.3 858.7)" stroke-width="1.2"/>
<ellipse cx="271.3" cy="858.9" rx="1.8" ry="1.5" transform="rotate(-30 271.3 858.9)" stroke-width="1.1"/>
<polyline points="271.2,853.6 275.2,858.5 275.8,864" stroke-width="1.2"/>
<polyline points="277,859.4 279.9,859.4" stroke-width="1.1"/>
<path d="M270,851.6 C270.5,851.5 271.8,851 273,850.9 C274.2,850.8 276.3,851.2 277,851.2" stroke-width="1.1"/>
<path d="M262,952 C263.1,950.6 266.1,948.2 268,947.5 C269.9,946.8 274.1,946.3 276,946.8 C277.9,947.3 280.9,949 282,951 C283.1,953 284.1,959.2 284.3,962 C284.5,964.8 284.3,969.7 283.5,972 C282.7,974.3 279.7,977.9 278,979 C276.3,980.1 272.9,980.7 271,980.5 C269.1,980.3 265.5,979.2 264,977.5 C262.5,975.8 260.6,970.6 260,968 C259.4,965.4 259.2,960.1 259.5,958 C259.8,955.9 260.9,953.4 262,952Z"/>
<path d="M272.5,948 C273.6,948.3 277.5,948 279,950 C280.5,952 281.2,956.3 281.5,960 C281.8,963.7 281.9,968.8 281,972 C280.1,975.2 276.8,978.2 276,979.5"/>
<ellipse cx="266.3" cy="957.9" rx="2.8" ry="3.5"/>
<ellipse cx="266.8" cy="973.7" rx="2.6" ry="3.3"/>
<path d="M263,964 C263.5,964.5 264.8,966.7 266,967 C267.2,967.3 269.5,967 270.5,966 C271.5,965 271.8,961.8 272,961"/>
<polyline points="275.5,954.5 279.5,960.5"/>
<polyline points="275.5,958 279,954"/>
<line x1="285.5" y1="963.5" x2="306.9" y2="950" stroke-dasharray="7.5,1.5,2.5,1.5"/>
<ellipse cx="309.5" cy="949.8" rx="2.6" ry="2.6"/>
<polyline points="311.5,947.2 332.9,936.9"/>
<polyline points="312.8,951.8 334.6,941"/>
<polyline points="321.6,942.5 325,946.2"/>
<polyline points="323.5,941.5 326.5,945.2"/>
<path d="M622.7,608.2 C622.8,607.8 622.8,605.7 623.5,605 C624.2,604.3 626.9,603 628.2,602.7 C629.5,602.4 632.4,602.3 633.6,602.7 C634.8,603.1 636.8,605 637.3,605.4"/>
<polyline points="637.3,605.4 644.5,600.9 650,598.2 669,609.1 648.2,619.1 622.7,608.2"/>
<path d="M622.7,608.2 C622.7,608.6 622,609.9 622.7,610.9 C623.4,611.9 626.1,613.8 628.2,615.4 C630.3,617 636.1,620.6 638.2,622.7 C640.3,624.8 642.5,629.1 643.6,630.9 C644.7,632.7 645.4,635.5 646.3,636.3 C647.2,637.1 649.5,637.1 650,637.2"/>
<path d="M648.2,619.1 C648.5,619.6 649.7,620.9 650,622 C650.3,623.1 650,623.5 650,626 C650,628.5 650,635.3 650,637.2"/>
<polyline points="669,609.1 670,625.4"/>
<polyline points="650,637.2 664.5,630.9"/>
<path d="M655.4,635.4 C655.4,633.2 655,624.6 655.4,622 C655.8,619.4 656.6,620.7 658,619.8 C659.4,618.9 662.3,616.7 663.5,616.5 C664.7,616.3 664.9,617.2 665.2,618.5 C665.5,619.8 665.3,623.1 665.3,624"/>
<ellipse cx="653.6" cy="605" rx="2.8" ry="1.5" transform="rotate(-10 653.6 605)"/>
<ellipse cx="643.6" cy="612.3" rx="2.3" ry="1.3" transform="rotate(-10 643.6 612.3)"/>
<path d="M659.1,628.7 L667.1,633.7 A2.6,2.6 0 0 0 669.9,629.3 L661.9,624.3 A2.6,2.6 0 0 0 659.1,628.7 Z"/>
<ellipse cx="669.5" cy="631.5" rx="2.2" ry="3" transform="rotate(20 669.5 631.5)"/>
<line x1="671.8" y1="631.8" x2="705.8" y2="651.8" stroke-dasharray="7.5,1.5,2.5,1.5"/>
<ellipse cx="715" cy="666.3" rx="10.9" ry="17.7" transform="rotate(8 715 666.3)"/>
<path d="M711,653 C712.5,651.8 716.1,649.7 718,650 C719.9,650.3 721.6,652.3 722.5,655 C723.4,657.7 723.6,662.2 723.5,666 C723.4,669.8 723.2,675.2 722,678 C720.8,680.8 718,682.7 716,683 C714,683.3 711.3,682.5 710,680 C708.7,677.5 708.2,671.8 708,668 C707.8,664.2 708.5,659.5 709,657 C709.5,654.5 709.5,654.2 711,653Z"/>
<path d="M714.5,673.5 C714.3,671.3 713.2,663.3 713.5,660.5 C713.8,657.7 715.3,657.1 716.5,656.5 C717.7,655.9 719.8,656.2 720.5,657 C721.2,657.8 721.1,659.8 720.5,661 C719.9,662.2 717.6,663.5 717,664"/>
<polyline points="714.5,667.5 720.8,663"/>
<polyline points="721,665 721,676"/>
<ellipse cx="717.3" cy="675.8" rx="1.7" ry="1.7"/>
<line x1="720.8" y1="678.6" x2="740" y2="690" stroke-dasharray="7.5,1.5,2.5,1.5"/>
<path d="M1510,381.3 C1510.2,379.1 1510.4,373.1 1511.3,370.4 C1512.2,367.7 1515.2,362.7 1516.8,360.9 C1518.4,359.1 1521.6,357 1523.6,356.8 C1525.6,356.6 1529.5,358.6 1531.7,359.5 C1533.9,360.4 1538.6,362.1 1539.9,363.6 C1541.2,365.1 1541.3,367.7 1541.3,370.4 C1541.3,373.1 1540.8,380.6 1539.9,384.1 C1539,387.6 1536.1,394.1 1534.5,396.3 C1532.9,398.5 1529.5,400.2 1527.7,400.4 C1525.9,400.6 1522.8,398.8 1520.8,397.7 C1518.8,396.6 1514.1,393.7 1512.7,392.2 C1511.3,390.7 1510.4,388.3 1510,386.8 C1509.6,385.3 1509.8,383.5 1510,381.3Z"/>
<ellipse cx="1532.8" cy="381" rx="9.2" ry="18.7" transform="rotate(12 1532.8 381)"/>
<ellipse cx="1533.3" cy="381" rx="7.4" ry="16.5" transform="rotate(12 1533.3 381)"/>
<ellipse cx="1534.5" cy="371.8" rx="1.6" ry="2.2" transform="rotate(20 1534.5 371.8)"/>
<ellipse cx="1530.4" cy="393.6" rx="1.6" ry="2.2" transform="rotate(20 1530.4 393.6)"/>
<path d="M1515.4,390.9 C1515.2,388.2 1513.6,379.8 1514.5,375 C1515.4,370.2 1519.8,364.4 1520.8,362.3"/>
<path d="M1519.5,394 C1519.3,391.3 1517.7,383.3 1518.5,378 C1519.3,372.7 1523.5,364.7 1524.5,362"/>
<polyline points="1528,376 1536,385"/>
<polyline points="1528,385 1536.5,376"/>
<path d="M1463.6,484.9 C1464.5,482.7 1466.4,478 1467.7,476.7 C1469,475.4 1471.4,474.9 1473.2,475.3 C1475,475.7 1479.7,477.9 1481.3,479.4 C1482.9,480.9 1484.9,483.8 1485.4,486.2 C1485.9,488.6 1485.9,494.6 1485.4,497.1 C1484.9,499.6 1482.9,503.7 1481.3,505.3 C1479.7,506.9 1475.2,509.2 1473.2,509.4 C1471.2,509.6 1467.8,508 1466.3,506.7 C1464.8,505.4 1463,501.7 1462.3,499.9 C1461.6,498.1 1460.7,495.1 1460.9,493.1 C1461.1,491.1 1462.7,487.1 1463.6,484.9Z"/>
<ellipse cx="1477.5" cy="494.4" rx="7.5" ry="14" transform="rotate(10 1477.5 494.4)"/>
<ellipse cx="1478" cy="494.4" rx="5.7" ry="11.8" transform="rotate(10 1478 494.4)"/>
<ellipse cx="1478.6" cy="486.2" rx="1.6" ry="2.2" transform="rotate(20 1478.6 486.2)"/>
<ellipse cx="1477.2" cy="502.6" rx="1.6" ry="2.2" transform="rotate(20 1477.2 502.6)"/>
<path d="M1465,501 C1464.9,499.2 1463.8,493.5 1464.5,490 C1465.2,486.5 1468.2,481.7 1469,480"/>
<path d="M1468,504 C1467.9,502 1466.9,495.8 1467.5,492 C1468.1,488.2 1470.8,482.8 1471.5,481"/>
<polyline points="1474,494 1481,494.5"/>
<polyline points="1472,498 1474,494 1472,490"/>
<path d="M1298.9,251 C1296.9,249.7 1286.4,242.6 1283.7,241.6 C1281,240.6 1279.8,242.5 1278.7,243.8 C1277.6,245.1 1275.9,250.1 1275.8,251.7 C1275.7,253.3 1275.8,254.3 1277.9,256 C1280,257.7 1289.1,263.7 1291.7,264.7 C1294.3,265.7 1296.2,263.9 1297.5,263.3 C1298.8,262.7 1300.6,260.8 1301.1,260.4"/>
<path d="M1281.8,252.8 L1296.3,260.1 A2.6,2.6 0 0 0 1298.7,255.5 L1284.2,248.2 A2.6,2.6 0 0 0 1281.8,252.8 Z"/>
<ellipse cx="1299.5" cy="258" rx="2.2" ry="3"/>
<path d="M1298.9,251.7 C1299.1,251.4 1299.1,250.2 1300.3,248.8 C1301.5,247.4 1307.6,242 1309,240.1 C1310.4,238.2 1311.1,234.1 1311.9,232.9 C1312.7,231.7 1315.2,230.4 1316.2,230 C1317.2,229.6 1319.4,230.5 1320.6,229.3 C1321.8,228.1 1325.2,221.5 1326.4,219.9 C1327.6,218.3 1329.4,216.4 1330.7,215.6 C1332,214.8 1336.5,214.2 1337.9,213.4 C1339.3,212.6 1341.5,209.3 1342.3,208.4 C1343.1,207.5 1343.9,206.1 1345.1,205.5 C1346.3,204.9 1351.2,204.1 1352.4,203.3 C1353.6,202.5 1354.5,199.9 1355.3,199 C1356.1,198.1 1358.4,195.8 1359.6,195.3 C1360.8,194.8 1364,195.1 1365.4,194.6 C1366.8,194.1 1369.7,192.3 1371.2,191 C1372.7,189.7 1376.9,185 1378.4,183.8 C1379.9,182.6 1382.7,181.3 1384.2,180.9 C1385.7,180.5 1390.2,180.5 1391.4,180.2 C1392.6,179.9 1393.3,178.5 1394.3,178 C1395.3,177.5 1397.7,176.2 1400.1,175.8 C1402.5,175.4 1411.1,174.7 1414.5,174.8 C1417.9,174.9 1425.5,175.5 1428.9,176.6 C1432.3,177.7 1438.7,181.5 1443.4,183.8 C1448.1,186.1 1466.4,194.7 1469.4,196.1"/>
<path d="M1469.4,196.1 C1470.6,195.6 1473.7,194 1476.6,193.2 C1479.5,192.3 1483.1,191.2 1486.7,191 C1490.3,190.8 1494.7,190.8 1498.3,191.7 C1501.9,192.5 1505.8,194.5 1508.4,196.1 C1511.1,197.7 1513.2,200.3 1514.2,201.1"/>
<path d="M1493.3,214 C1493.3,212.7 1492.8,206.1 1493.3,204.3 C1493.8,202.5 1495.9,201.3 1497.1,200.6 C1498.3,199.9 1500,199.1 1502,199.3 C1504,199.5 1509.4,200.5 1511.9,201.8 C1514.4,203.1 1518.9,207.3 1520.6,209.3 C1522.3,211.3 1523.8,213.7 1524.3,216.7 C1524.8,219.7 1524,227.7 1524.3,231.5 C1524.6,235.3 1526.3,242.2 1526.8,245.2 C1527.3,248.2 1528,251.8 1528,253.8 C1528,255.8 1527,259.2 1526.8,260"/>
<line x1="1497.1" y1="204.3" x2="1497.1" y2="214.2"/>
<path d="M1508.2,206.8 C1508.4,209.7 1508.8,220.4 1509.4,224.1 C1510,227.8 1510.2,225.6 1511.9,229.1 C1513.6,232.6 1517.7,241.5 1519.3,245.2 C1520.9,248.9 1521.8,249.1 1521.8,251.4 C1521.8,253.7 1519.7,257.6 1519.3,258.8"/>
<path d="M1512,207 C1512.2,209.5 1512.4,218.5 1513,222 C1513.6,225.5 1513.9,224.3 1515.5,228 C1517.1,231.7 1521,240.2 1522.5,244 C1524,247.8 1524.5,248.5 1524.5,251 C1524.5,253.5 1522.8,257.7 1522.5,259"/>
<ellipse cx="1504.5" cy="209.3" rx="2.6" ry="3"/>
<ellipse cx="1504.5" cy="209.3" rx="1.2" ry="1.5"/>
<ellipse cx="1515.6" cy="215.4" rx="2.4" ry="3.2"/>
<polyline points="1513.6,213 1517.5,217.5"/>
<polyline points="1514,216.5 1517,213.5"/>
<path d="M1512.4,204.7 L1520.0,202.2 A1.5,1.5 0 0 0 1519.0,199.4 L1511.4,201.9 A1.5,1.5 0 0 0 1512.4,204.7 Z"/>
<ellipse cx="1520.3" cy="200.6" rx="1.5" ry="2" transform="rotate(20 1520.3 200.6)"/>
<path d="M1523.6,211.9 L1530.0,209.6 A1.5,1.5 0 0 0 1529.0,206.8 L1522.6,209.1 A1.5,1.5 0 0 0 1523.6,211.9 Z"/>
<ellipse cx="1530.4" cy="207.9" rx="1.5" ry="2" transform="rotate(20 1530.4 207.9)"/>
<line x1="1531.5" y1="207" x2="1567" y2="186.3" stroke-dasharray="7.5,1.5,2.5,1.5"/>
<path d="M1468.6,195.6 C1471.3,197.2 1480.1,202.3 1485,205 C1489.9,207.7 1494.8,210.1 1498,212 C1501.2,213.9 1503,214.1 1504.5,216.7 C1506,219.3 1507.2,224.7 1507,227.8 C1506.8,230.9 1505,233.4 1503.3,235.3 C1501.6,237.2 1498.1,238.4 1497.1,239"/>
<path d="M1472.3,196.9 C1473.6,197.6 1477.7,199.3 1480,201 C1482.3,202.7 1484.9,205.8 1485.9,206.8"/>
<path d="M1298,264 C1299.7,266.2 1305,273.8 1308.2,277 C1311.4,280.2 1314,281.4 1317.3,283.5 C1320.6,285.6 1324.3,286.7 1328.2,289.5 C1332.1,292.3 1337.4,296.6 1340.9,300.5 C1344.4,304.4 1346.2,309.7 1349.1,313 C1352,316.3 1354.9,318.7 1358.1,320.5 C1361.3,322.3 1366.8,323.4 1368.5,324"/>
<path d="M1300.9,262 C1303.3,264.8 1310.9,275.1 1315.4,279 C1319.9,282.9 1323.2,281.8 1328,285.5 C1332.8,289.2 1340.2,296.2 1344.5,301 C1348.8,305.8 1351,311.1 1353.6,314 C1356.2,316.9 1357.6,317.2 1360,318.5 C1362.4,319.8 1366.7,321 1368,321.5"/>
<path d="M1403,325.8 C1405.4,325.3 1412.4,324.4 1417.2,322.7 C1422,321 1427.2,318.1 1431.7,315.4 C1436.2,312.7 1440.1,309.4 1444.5,306.3 C1448.9,303.2 1452.2,300.1 1458,296.5 C1463.8,292.9 1472.3,288.2 1479.5,284.5 C1486.7,280.8 1494.6,277.4 1501,274.5 C1507.4,271.6 1514.2,269.1 1518,267 C1521.8,264.9 1522.6,264.1 1524,262 C1525.4,259.9 1526.3,257.3 1526.6,254.6 C1526.8,251.9 1526.2,249.7 1525.5,245.9 C1524.8,242.1 1523,234.3 1522.5,232"/>
<path d="M1403,331.5 C1405.1,331.2 1410.8,331.8 1415.4,330 C1420,328.2 1425.5,324.4 1430.8,321 C1436.1,317.6 1442.1,313 1447,309.5 C1451.9,306 1454.3,303.6 1460,300 C1465.7,296.4 1473.9,291.8 1481,288 C1488.1,284.2 1496,280.5 1502.5,277.5 C1509,274.5 1516,272.2 1520,270 C1524,267.8 1524.9,266.8 1526.5,264.5 C1528.1,262.2 1529.2,259.2 1529.5,256 C1529.8,252.8 1529,249.3 1528.5,245.5 C1528,241.7 1526.8,235.1 1526.5,233"/>
<path d="M1391.1,181.2 L1493.8,234.6 Q1499.1,237.4 1500.6,243.4 L1508.9,265.4"/>
<path d="M1377.0,186.1 L1485.3,239.0 Q1490.7,241.6 1492.2,247.6 L1500.5,268.2"/>
<path d="M1368.6,195.3 L1478.2,243.4 Q1483.7,245.8 1485.2,251.8 L1490.7,271.0"/>
<path d="M1357.4,197.4 L1462.8,246.1 Q1468.2,248.6 1469.7,254.6 L1475.3,279.5"/>
<path d="M1354.6,200.2 L1457.2,251.5 Q1462.6,254.2 1464.1,260.2 L1466.8,285.1"/>
<path d="M1344.7,206.5 L1450.2,255.9 Q1455.6,258.4 1457.1,264.4 L1461.2,289.3"/>
<path d="M1339.1,212.1 L1441.8,262.7 Q1447.2,265.4 1448.7,271.4 L1454.2,293.5"/>
<path d="M1330.7,214.9 L1433.4,264.2 Q1438.8,266.8 1440.3,272.8 L1445.8,301.9"/>
<path d="M1320.9,226.1 L1426.3,274.2 Q1431.8,276.7 1433.3,282.7 L1438.8,304.7"/>
<path d="M1313.9,230.4 L1418.0,285.1 Q1423.3,287.9 1424.8,293.9 L1430.4,313.2"/>
<path d="M1398.9,178.7 C1407.4,182.6 1434.8,194.9 1450,202 C1465.2,209.1 1481.7,217 1490,221 C1498.3,225 1497.5,224.7 1500,226 C1502.5,227.3 1504.4,228.5 1505.3,229"/>
<polyline points="1468.2,248.6 1483.7,245.8"/>
<polyline points="1438.8,266.8 1446,263"/>
<polyline points="1423.3,287.9 1431.8,277"/>
<path d="M1393.2,206.8 C1394.5,205.5 1407.8,199.6 1410.6,199.1 C1413.4,198.5 1418.2,200.8 1417,202 C1415.7,203.3 1402.4,209.2 1399.6,209.7 C1396.8,210.3 1392,208 1393.2,206.8Z"/>
<path d="M1408.1,214.7 C1409.4,213.4 1422.7,207.5 1425.5,207 C1428.3,206.4 1433.1,208.7 1431.9,209.9 C1430.6,211.2 1417.3,217.1 1414.5,217.6 C1411.7,218.2 1406.9,215.9 1408.1,214.7Z"/>
<path d="M1422.6,222.9 C1423.9,221.6 1437.2,215.7 1440,215.2 C1442.8,214.6 1447.6,216.9 1446.4,218.1 C1445.1,219.4 1431.8,225.3 1429,225.8 C1426.2,226.4 1421.4,224.1 1422.6,222.9Z"/>
<path d="M1436.6,230.4 C1437.9,229.1 1451.2,223.2 1454,222.7 C1456.8,222.1 1461.6,224.4 1460.4,225.6 C1459.1,226.9 1445.8,232.8 1443,233.3 C1440.2,233.9 1435.4,231.6 1436.6,230.4Z"/>
<path d="M1335.6,236.3 C1336.9,235 1350.2,229.1 1353,228.6 C1355.8,228 1360.6,230.3 1359.4,231.5 C1358.1,232.8 1344.8,238.7 1342,239.2 C1339.2,239.8 1334.4,237.5 1335.6,236.3Z"/>
<path d="M1353.9,245.4 C1355.2,244.1 1368.5,238.2 1371.3,237.7 C1374.1,237.1 1378.9,239.4 1377.7,240.6 C1376.4,241.9 1363.1,247.8 1360.3,248.3 C1357.5,248.9 1352.7,246.6 1353.9,245.4Z"/>
<path d="M1372.6,255.9 C1373.9,254.6 1387.2,248.7 1390,248.2 C1392.8,247.6 1397.6,249.9 1396.4,251.1 C1395.1,252.4 1381.8,258.3 1379,258.8 C1376.2,259.4 1371.4,257.1 1372.6,255.9Z"/>
<path d="M1390.4,265.9 C1391.7,264.6 1405,258.7 1407.8,258.2 C1410.6,257.6 1415.4,259.9 1414.2,261.1 C1412.9,262.4 1399.6,268.3 1396.8,268.8 C1394,269.4 1389.2,267.1 1390.4,265.9Z"/>
<ellipse cx="1318.5" cy="252.4" rx="8" ry="12.3" transform="rotate(10 1318.5 252.4)"/>
<polyline points="1326.4,254.6 1335,258.9"/>
<path d="M1337.9,277.7 C1337.7,275.8 1336,269.6 1336.5,266.2 C1337,262.8 1338.9,259.4 1340.8,257.5 C1342.7,255.6 1346,254.7 1348,254.6 C1350,254.5 1352.6,255.8 1353.1,256.8 C1353.6,257.8 1352.2,259.1 1350.9,260.4 C1349.6,261.7 1346.5,262.8 1345.1,264.7 C1343.7,266.6 1343,269.2 1342.3,271.9 C1341.6,274.5 1341,279.2 1340.8,280.6"/>
<path d="M1350.9,295.1 C1351.2,293.4 1351,288.3 1352.4,284.9 C1353.9,281.5 1356.5,277.6 1359.6,274.8 C1362.7,272 1368.3,269.3 1371.2,268.3 C1374.1,267.3 1376,268.1 1376.9,269 C1377.9,269.9 1378.3,271.9 1376.9,273.4 C1375.5,274.8 1371.2,275.8 1368.3,277.7 C1365.4,279.6 1361.5,282 1359.6,284.9 C1357.7,287.8 1357.4,292.5 1356.7,295.1 C1356,297.8 1356.3,299.9 1355.3,300.8 C1354.3,301.8 1351.6,301.8 1350.9,300.8 C1350.2,299.9 1350.9,296.1 1350.9,295.1"/>
<polyline points="1346,267 1352,280"/>
<path d="M1359.6,289.3 C1361.5,290.3 1365.7,293.7 1371.2,295.1 C1376.7,296.6 1387.2,297.6 1392.8,298 C1398.4,298.4 1401.4,298 1405,297.5 C1408.6,297 1411.7,296.2 1414.5,295.1 C1417.3,294 1420.5,291.4 1421.7,290.7"/>
<path d="M1298.2,267.3 C1299.2,269 1302.5,274.4 1304.5,277.3 C1306.5,280.2 1307.9,280.6 1310,284.5 C1312.1,288.4 1314.7,296.2 1317.3,300.9 C1319.9,305.6 1323,310.1 1325.4,312.7 C1327.8,315.3 1329.5,314.6 1331.8,316.3 C1334.1,318 1336.7,320.6 1339.1,322.7 C1341.5,324.8 1343.9,326.7 1346.3,329 C1348.7,331.3 1351,332.8 1353.6,336.3 C1356.2,339.8 1358.8,346.5 1361.8,350 C1364.8,353.5 1370.1,356 1371.8,357.2"/>
<path d="M1525,266 C1524.2,267.3 1522,271.8 1520,274 C1518,276.2 1514.9,276.9 1512.7,279 C1510.5,281.1 1510,284.1 1506.9,286.5 C1503.8,288.9 1497.8,291.2 1493.9,293.5 C1490.1,295.8 1487.9,298.6 1483.8,300.5 C1479.7,302.4 1473.7,303.1 1469.4,305 C1465.1,306.9 1461.9,309.2 1457.8,312 C1453.7,314.8 1448.6,319 1445,322 C1441.4,325 1439.1,327.9 1436,330 C1432.9,332.1 1429.4,331.2 1426.3,334.5 C1423.2,337.8 1420.7,346.4 1417.2,350 C1413.7,353.6 1407.4,355.2 1405.4,356.3"/>
<polyline points="1450,345.4 1429.9,335.4"/>
<polyline points="1310,283.6 1325.4,312.7"/>
<polyline points="1318.2,289.1 1331.8,316.3"/>
<polyline points="1327.3,294.5 1344.5,328.1"/>
<polyline points="1343.6,315.4 1360.9,349"/>
<polyline points="1505,283 1500,294"/>
<polyline points="1494,287 1488,298"/>
<polyline points="1480,292 1474,302"/>
<polyline points="1466,299 1459,309"/>
<polyline points="1452,305 1446,316"/>
<polyline points="1440,312 1434,326"/>
<polyline points="1340.9,283.6 1402.7,318.1"/>
<path d="M1380.9,308.2 C1381.4,307.3 1383,304.2 1384,303 C1385,301.8 1386.1,300.7 1387.2,300.9 C1388.3,301.1 1389.6,302.8 1390.5,304 C1391.4,305.2 1392,306.8 1392.7,308.2 C1393.4,309.6 1394.2,311.9 1394.5,312.7"/>
<path d="M1369.6,328.1 C1369.7,326.8 1368.3,321.9 1370,320 C1371.7,318.1 1375.7,316.8 1379.5,316.5 C1383.3,316.2 1389.1,316.3 1392.7,318.2 C1396.3,320.1 1399.6,326.5 1401,328.1"/>
<path d="M1367.5,326 C1367.8,324.4 1367.6,318.9 1369.6,316.5 C1371.6,314.1 1374.5,312.2 1379.5,311.6 C1384.5,311.1 1395.4,310.8 1399.3,313.2 C1403.2,315.6 1402.4,323.9 1403,326"/>
<path d="M1369.6,328.1 C1369.6,330 1369,334.9 1369.6,339.6 C1370.1,344.3 1371.8,351.4 1372.9,356.1 C1374,360.8 1374.3,362.2 1376.2,367.7 C1378.1,373.2 1381.8,382.8 1384.5,389.1 C1387.2,395.4 1390.8,400.6 1392.7,405.6 C1394.6,410.6 1395.5,414.5 1396,418.9 C1396.5,423.3 1396.8,428.8 1396,432.1 C1395.2,435.4 1393.8,436.2 1391.1,438.7 C1388.3,441.2 1381.4,445.5 1379.5,446.9"/>
<path d="M1391.1,333 C1391.4,336.6 1391.9,350.1 1392.7,354.5 C1393.5,358.9 1393.8,354.7 1396,359.4 C1398.2,364.1 1402.6,374.8 1405.9,382.5 C1409.2,390.2 1413.9,400.1 1415.8,405.6 C1417.7,411.1 1417.2,410.6 1417.5,415.6 C1417.8,420.6 1417.8,429.9 1417.5,435.4 C1417.2,440.9 1417.5,444.8 1415.8,448.6 C1414.1,452.5 1409,456.9 1407.6,458.5"/>
<path d="M1400.8,330 C1401,332 1402,337.9 1402,342 C1402,346.1 1399.8,350.8 1401,354.5 C1402.2,358.2 1407.3,361.1 1409.2,364.4 C1411.1,367.7 1410.8,370.7 1412.5,374.3 C1414.2,377.9 1417.4,381.7 1419.1,385.8 C1420.8,389.9 1421,394.3 1422.4,399 C1423.8,403.7 1426.3,408.4 1427.4,413.9 C1428.5,419.4 1429,427.4 1429,432.1 C1429,436.8 1429.1,438.1 1427.4,442 C1425.8,445.9 1422.8,451.2 1419.1,455.2 C1415.4,459.2 1407.3,464.2 1405,466"/>
<path d="M1343.2,316.5 C1344.6,318.7 1348.8,324.8 1351.5,329.7 C1354.2,334.6 1356.7,342.1 1359.7,346.2 C1362.7,350.3 1367.9,353.1 1369.6,354.5"/>
<polyline points="1374.6,362.7 1396,354.5 1402.6,357.8"/>
<polyline points="1375.5,366 1396.5,358 1403,361"/>
<path d="M1396,425.5 C1396.8,424.1 1398.5,418.3 1401,417.2 C1403.5,416.1 1408.7,416.7 1410.9,418.9 C1413.1,421.1 1414.5,426.3 1414.2,430.4 C1413.9,434.5 1412.5,440.3 1409.2,443.6 C1405.9,446.9 1399.4,449.4 1394.4,450.2 C1389.5,451 1382,448.9 1379.5,448.6"/>
<path d="M1409,365 C1409.7,365.5 1412.2,366.3 1413,368 C1413.8,369.7 1413.8,373.8 1414,375"/>
<path d="M1414,385 C1414.8,385.2 1418,384.8 1419,386 C1420,387.2 1419.8,391 1420,392"/>
<path d="M1417,398 C1417.8,398.3 1421,397.8 1422,400 C1423,402.2 1422.8,409.2 1423,411"/>
<polyline points="1425,425 1428,428"/>
<line x1="1428.6" y1="334.8" x2="1507.6" y2="379.1" stroke-dasharray="7.5,1.5,2.5,1.5"/>
<path d="M1569.3,147.2 C1568.7,147.5 1562.8,152.4 1562.3,153.2 C1561.8,154 1561.5,158.8 1561.5,159.4 C1561.5,160 1562.4,161 1562.5,161.5 C1562.6,162 1562.6,165.7 1562.3,166.4 C1562,167.1 1558.7,171.4 1558.6,172.2 C1558.5,173 1560.3,177.8 1560.7,178.4 C1561.1,179 1563.5,181 1564,181.3 C1564.5,181.6 1568.3,182.2 1568.9,182.6 C1569.5,183 1572.5,186.8 1573.1,187.1 C1573.7,187.4 1577.5,187.3 1578,187.1 C1578.5,186.9 1580.3,185 1580.9,184.6 C1581.5,184.2 1587.1,181 1587.5,180.5 C1587.9,180 1587.7,177.8 1587.5,177.2 C1587.3,176.6 1584,172.4 1583.8,171.4 C1583.6,170.4 1584.2,163.3 1584.2,162.3 C1584.2,161.3 1584.3,156.2 1584.2,155.7 C1584.1,155.2 1583.9,155 1583,154.5 C1582.1,154 1572.3,148.8 1571.4,148.3 C1570.5,147.8 1569.9,146.9 1569.3,147.2Z"/>
<ellipse cx="1579.3" cy="160.7" rx="3.4" ry="4.2"/>
<ellipse cx="1579.5" cy="161" rx="1.4" ry="2"/>
<ellipse cx="1561.8" cy="176.4" rx="1.6" ry="2"/>
<ellipse cx="1573.1" cy="182.6" rx="1.6" ry="2"/>
<polyline points="1562.5,161.5 1574.3,166.9"/>
<polyline points="1559,171.8 1577.2,180.9"/>
<polyline points="1574.3,162.7 1577.2,181.3"/>
<polyline points="1581.3,165.6 1582.6,177.2"/>
<polyline points="1568,166 1570,175"/>
<path d="M1111.7,495.7 C1109.2,495.9 1097.6,496.6 1093.3,497.1 C1089,497.6 1086.2,496.9 1079.8,499.7 C1073.4,502.5 1054.5,512.9 1045,518 C1035.5,523.1 1014.9,534.3 1008.7,537.8 C1002.5,541.3 1000.9,542.5 998.5,544.5 C996.1,546.5 992.8,550.1 991,553 C989.2,555.9 987.1,560.8 985,566 C982.9,571.2 977.9,584.8 975,592 C972.1,599.2 965.3,614.9 963,620 C960.7,625.1 959.7,627.8 958,630 C956.3,632.2 958.3,631.6 950,636.5 C941.7,641.4 902.8,662.6 895.5,666.6"/>
<polyline points="895.5,666.6 808.6,713.8 719.2,764.7 669.5,788.3 650.6,800 639.3,808.5"/>
<path d="M1116.3,524.1 C1114.1,524.2 1103.5,524.7 1100,525.1 C1096.5,525.5 1095.2,524.4 1089.9,526.8 C1084.6,529.2 1066.7,539.3 1060,543 C1053.3,546.7 1044.4,552.5 1040,554.9 C1035.6,557.3 1030,559.3 1027,561 C1024,562.7 1019.3,565 1017.2,567.3 C1015.1,569.6 1013.3,572.8 1011,578 C1008.7,583.2 1003.1,598.2 1000,606 C996.9,613.8 989.9,631.5 987.4,636.8 C984.9,642.1 983.1,643.8 981,646 C978.9,648.2 973.2,652.1 972,653"/>
<polyline points="972,653 670,822.5 652.8,829.3"/>
<ellipse cx="812.3" cy="723.8" rx="8" ry="6" transform="rotate(10 812.3 723.8)"/>
<ellipse cx="727.9" cy="769.7" rx="6.8" ry="6.2"/>
<path d="M724,768 C724.4,767 725.8,765.7 727,765.5 C728.2,765.3 730.2,766.1 731,767 C731.8,767.9 732.5,769.9 732,771 C731.5,772.1 729.2,773.4 728,773.5 C726.8,773.6 725.2,772.4 724.5,771.5 C723.8,770.6 723.6,769 724,768Z"/>
<path d="M783.6,717.4 L794.1,722.7 A3.2,3.2 0 0 0 796.9,716.9 L786.4,711.6 A3.2,3.2 0 0 0 783.6,717.4 Z"/>
<polyline points="795.5,713 806,717"/>
<polyline points="797,716 804.5,719.5"/>
<polyline points="799,719.5 805,722.5"/>
<line x1="740" y1="690" x2="783.8" y2="713.8" stroke-dasharray="7.5,1.5,2.5,1.5"/>
<path d="M1119,484.4 C1120.2,484.7 1124.1,485.4 1126.2,486.2 C1128.3,486.9 1130.1,486.9 1131.6,488.9 C1133.1,490.8 1134.2,494.4 1135.2,497.9 C1136.2,501.4 1137.3,506.2 1137.9,509.7 C1138.5,513.2 1138.5,515 1138.8,518.7 C1139.1,522.5 1139.8,529.6 1139.7,532.2 C1139.6,534.8 1139.1,534.2 1137.9,534.5 C1136.7,534.8 1133.4,534.1 1132.5,534"/>
<path d="M1119,484.4 C1118.2,484.2 1115.4,483.2 1114,483.5 C1112.6,483.8 1111.2,484.8 1110.5,486 C1109.8,487.2 1109.7,489.5 1109.9,491 C1110.1,492.5 1110.7,494.2 1111.5,495 C1112.3,495.8 1113.6,495.5 1115,495.5 C1116.4,495.5 1119.1,495.2 1119.9,495.2"/>
<ellipse cx="1112.6" cy="491.4" rx="1.6" ry="2.4"/>
<ellipse cx="1116.7" cy="490.5" rx="1.6" ry="2.4"/>
<path d="M1114.4,496.1 C1115,497.1 1117.2,499.7 1118,502 C1118.8,504.3 1118.9,507.2 1119,509.7 C1119.1,512.2 1118.8,514.8 1118.5,517 C1118.2,519.2 1117.4,522.2 1117.2,523.2"/>
<path d="M1119.9,495.2 C1120.5,496.9 1122.8,501.6 1123.5,505.1 C1124.2,508.6 1124.4,512.7 1123.9,516 C1123.5,519.3 1121.3,523.5 1120.8,525"/>
<path d="M1122.6,494.3 C1123.6,495.1 1127.4,496.4 1128.9,498.8 C1130.4,501.2 1131.3,505.5 1131.6,508.8 C1131.9,512.1 1131.3,515.8 1130.7,518.7 C1130.1,521.6 1128.5,524.8 1128,526"/>
<path d="M1119.9,525 C1120.5,526 1121.8,529.8 1123.5,531.3 C1125.2,532.8 1128.3,533.5 1129.8,534 C1131.3,534.5 1132,534 1132.5,534"/>
<path d="M1126.2,534 C1126.1,532.8 1125.2,528.8 1125.5,527 C1125.8,525.2 1126.8,524.1 1128,523.5 C1129.2,522.9 1131.8,522.8 1133,523.5 C1134.2,524.2 1135,526.2 1135.2,528 C1135.4,529.8 1134.2,533 1134,534"/>
<ellipse cx="1128.2" cy="528.6" rx="1.5" ry="2.4"/>
<ellipse cx="1131.8" cy="528.6" rx="1.5" ry="2.4"/>
<polyline points="1133.4,515 1137.9,515"/>
<polyline points="1133.4,515 1133.4,519.6 1137.9,519.6"/>
<line x1="1129.8" y1="488.9" x2="1175.8" y2="484.8" stroke-dasharray="7.5,1.5,2.5,1.5"/>
<line x1="1189.4" y1="484.4" x2="1226.4" y2="480.3" stroke-dasharray="7.5,1.5,2.5,1.5"/>
<path d="M1176.3,480.8 C1176.6,480 1177.3,479.1 1178.6,479.4 C1179.9,479.7 1188.1,482.6 1189.4,483.5 C1190.8,484.4 1191.6,486.9 1192.1,488.9 C1192.6,490.9 1194.3,500.4 1194.8,503.3 C1195.2,506.2 1196.4,515.2 1196.6,517.8 C1196.8,520.4 1197.1,528.5 1196.6,529.5 C1196.1,530.5 1192.5,528.3 1191.2,527.7 C1189.9,527.1 1184.3,524.6 1183.1,523.2 C1181.9,521.9 1180.1,516.7 1179.5,514.2 C1178.9,511.7 1177.1,500.6 1176.7,497.9 C1176.3,495.2 1175.8,488.8 1175.8,487.1 C1175.8,485.4 1176,481.6 1176.3,480.8Z"/>
<ellipse cx="1186.7" cy="504.2" rx="6.3" ry="16" transform="rotate(-6 1186.7 504.2)"/>
<ellipse cx="1178.1" cy="485.7" rx="1" ry="2.4"/>
<ellipse cx="1194.8" cy="522.3" rx="1" ry="2.6"/>
<path d="M1225.5,476.3 C1226,475.1 1229.6,475.3 1230.9,475.4 C1232.2,475.5 1237.8,476.8 1239,477.2 C1240.2,477.6 1242,478 1242.7,479.9 C1243.4,481.8 1245.7,493.1 1246.3,496.1 C1246.9,499.1 1248.5,507.2 1249,509.7 C1249.5,512.2 1250.8,519.9 1250.8,521.4 C1250.8,522.9 1249.7,524.2 1249,524.6 C1248.3,525 1245,525.3 1243.6,525 C1242.1,524.7 1235.9,522.3 1234.5,521.4 C1233.1,520.5 1230.7,517.6 1230,516 C1229.3,514.4 1227.8,508 1227.3,505.1 C1226.8,502.2 1225.7,490 1225.5,487.1 C1225.3,484.2 1225,477.5 1225.5,476.3Z"/>
<ellipse cx="1235.9" cy="499.7" rx="5.9" ry="15.3" transform="rotate(-6 1235.9 499.7)"/>
<ellipse cx="1236.2" cy="499.7" rx="4.4" ry="13" transform="rotate(-6 1236.2 499.7)"/>
<ellipse cx="1227.3" cy="480.8" rx="1" ry="2.2"/>
<ellipse cx="1244" cy="518.7" rx="1.2" ry="2.2"/>
<path d="M1246.3,481 C1247.1,481.5 1249.8,481.3 1251,484 C1252.2,486.7 1253.2,492.7 1253.5,497 C1253.8,501.3 1253.2,507.1 1252.5,510 C1251.8,512.9 1249.6,513.5 1249,514.2"/>
<polyline points="1246.5,481 1251.7,480.5"/>
<path d="M1252,483.5 C1253.8,483.5 1265.4,483.2 1270,483.2 C1274.6,483.2 1294.9,483.1 1297.7,483.2 C1300.5,483.3 1297,484.4 1298.2,484.5 C1299.4,484.6 1308,484.6 1309.6,484.5 C1311.2,484.4 1313.1,483.8 1314.6,483.2 C1316.1,482.6 1322.5,479.3 1325,478 C1327.5,476.7 1335.9,472 1339.3,470.1 C1342.7,468.2 1355.9,461.3 1359,459.5 C1362.1,457.7 1368,453.3 1370,452 C1372,450.7 1378.5,447.4 1379.5,446.9"/>
<path d="M1249,513.3 C1251.8,513.3 1263.2,513.1 1270,513 C1276.8,512.9 1293.3,512.6 1300,512.3 C1306.7,512 1315.3,511.7 1320.6,510.4 C1325.9,509.1 1333.4,505.8 1339.8,502.7 C1346.2,499.6 1362.6,490.5 1368.6,487.3 C1374.6,484.1 1381.3,481.5 1385,479 C1388.7,476.5 1393,471.1 1396,468.4 C1399,465.7 1406.1,459.8 1407.6,458.5"/>
<ellipse cx="1378" cy="465" rx="17" ry="12.5" transform="rotate(-25 1378 465)"/>
<polyline points="1369,454.5 1376,477"/>
<polyline points="1378,452.5 1386,474.5"/>
<polyline points="1384.5,483.2 1401,479.9"/>
<polyline points="1380,487 1400,483"/>
<path d="M1387.8,486.2 L1401.8,479.2 A1.9,1.9 0 0 0 1400.2,475.8 L1386.2,482.8 A1.9,1.9 0 0 0 1387.8,486.2 Z"/>
<path d="M1402.6,475 C1403.8,474.3 1407.5,472.1 1410,471 C1412.5,469.9 1415.7,468.7 1417.5,468.4 C1419.3,468.1 1420,468.4 1421,469 C1422,469.6 1423.1,471.5 1423.5,472"/>
<path d="M1403.5,478.5 C1404.8,477.8 1408.6,475.6 1411,474.5 C1413.4,473.4 1416.2,472.2 1418,472 C1419.8,471.8 1421.3,473.2 1422,473.5"/>
<path d="M1423.7,473.9 L1436.2,481.1 A2.6,2.6 0 0 0 1438.8,476.5 L1426.3,469.3 A2.6,2.6 0 0 0 1423.7,473.9 Z"/>
<ellipse cx="1439" cy="480" rx="1.5" ry="2.2" transform="rotate(30 1439 480)"/>
<line x1="1440.6" y1="480.9" x2="1461" y2="492.8" stroke-dasharray="7.5,1.5,2.5,1.5"/>
<path d="M1323,445.4 L1310,445.4 Q1307.6,448.3 1310,451.3 L1323,451.3"/>
<line x1="1311.5" y1="445.6" x2="1312.3" y2="451.1" stroke-width="0.9"/>
<line x1="1313.5" y1="445.6" x2="1314.3" y2="451.1" stroke-width="0.9"/>
<line x1="1315.5" y1="445.6" x2="1316.3" y2="451.1" stroke-width="0.9"/>
<line x1="1317.5" y1="445.6" x2="1318.3" y2="451.1" stroke-width="0.9"/>
<line x1="1319.5" y1="445.6" x2="1320.3" y2="451.1" stroke-width="0.9"/>
<line x1="1321.5" y1="445.6" x2="1322.3" y2="451.1" stroke-width="0.9"/>
<path d="M1322.5,440.2 C1323,440.5 1326.3,442.4 1327,443 C1327.7,443.6 1329.6,445.1 1329.7,445.8 C1329.8,446.5 1328.6,449.1 1328,450 C1327.4,450.9 1324.2,454.3 1323.5,454.5 C1322.8,454.7 1320.9,452.4 1320.5,452 C1320.1,451.6 1319.6,451.6 1319.5,450.8 C1319.4,450 1318.9,445.1 1319.2,444 C1319.5,442.9 1322.2,440.6 1322.5,440.2"/>
<path d="M1326.5,443 C1326.9,443.7 1329,445.5 1329,447 C1329,448.5 1326.9,451.2 1326.5,452"/>
<polyline points="1307.6,449.3 1299.7,449.6"/>
<polyline points="1299.7,449.6 1278.5,451.3 1278.5,478.3 1272,478.3" stroke-dasharray="7.5,1.5,2.5,1.5"/>
<polyline points="181.2,308.6 290.9,266.2"/>
<path d="M290.9,266.2 C294.4,265.7 305.7,263.1 312.1,263.1 C318.6,263.1 325,264.4 329.6,266.2 C334.2,268 337.9,272.4 339.5,273.7"/>
<polyline points="339.5,273.7 362,292.4 370.6,300 411.6,328.4"/>
<path d="M411.6,328.4 C413.4,327.7 419.1,324.9 422.2,324.4 C425.3,323.8 426.2,323.4 430.1,325.1 C434.1,326.8 441.5,331.3 445.9,334.4 C450.3,337.5 453,339.4 456.5,343.6 C460,347.8 465.3,356.9 467.1,359.5"/>
<path d="M467.1,359.5 C468.9,360.4 474.6,362.4 477.7,364.8 C480.8,367.2 483.4,370.3 485.6,374 C487.8,377.7 489.9,382.8 490.9,387.2 C491.9,391.6 491.2,392.9 491.8,400.4 C492.4,407.9 493.6,425.6 494.2,432.2 C494.8,438.8 495.6,437.7 495.5,440.1 C495.4,442.5 495.1,444.7 493.5,446.7 C491.9,448.7 488.9,450.1 485.6,452 C482.3,453.9 475.5,456.9 473.5,457.9"/>
<path d="M473.5,457.9 C471.2,456.8 463.9,452.8 459.7,451.6 C455.4,450.4 450.9,450.8 448,450.8 C445.1,450.8 444.3,450.9 442.3,451.6 C440.3,452.3 437.6,453.3 436,455 C434.4,456.7 433.1,460.8 432.5,462"/>
<polyline points="473.5,457.9 463.1,460.5 440,468.3 432.5,470.5"/>
<ellipse cx="453.5" cy="458.3" rx="2.4" ry="1.3" transform="rotate(25 453.5 458.3)"/>
<polyline points="432.5,470.5 405,471 343.1,505.9"/>
<path d="M343.1,505.9 C341.2,506.9 334.3,510.4 331.6,511.7 C328.9,513 329.5,513.1 326.8,513.4 C324.1,513.7 318.2,514 315.3,513.4 C312.4,512.8 310.9,511.4 309.2,509.8 C307.5,508.2 306.4,505.9 305.2,503.7 C304,501.4 302.9,498.7 302.1,496.3 C301.3,493.9 300.8,492.6 300.4,489.5 C300,486.4 299.9,481.9 299.5,478 C299.1,474.1 298.8,469.8 298,466 C297.2,462.2 296.3,458.3 295,455 C293.7,451.7 292,448.7 290,446 C288,443.3 286,441.5 283,439 C280,436.5 275.5,433.3 272,431 C268.5,428.7 265.7,427.7 262,425 C258.3,422.3 253.7,417.8 250,415 C246.3,412.2 242.9,409.9 240,408 C237.1,406.1 233.6,404.2 232.3,403.4"/>
<path d="M319.4,508.5 C319.4,508.1 318.7,507.5 319.4,506.4 C320.1,505.3 322.1,503 323.8,502 C325.6,501 327.8,500.4 329.9,500.3 C332,500.2 334.5,500.4 336.7,501.3 C338.9,502.2 342,505.1 343.1,505.9"/>
<polyline points="320.1,510.1 322.8,513.2"/>
<ellipse cx="331.4" cy="507.1" rx="2.8" ry="1.3" transform="rotate(12 331.4 507.1)"/>
<polyline points="232.3,403.4 204.9,382.2"/>
<path d="M204.9,382.2 C203.2,381.4 197.9,379 195,377.5 C192.1,376 189.7,374.8 187.4,373 C185.1,371.2 182.2,367.6 181.2,366.5"/>
<path d="M181.2,366.5 C179.1,365.2 172.2,361.3 168.7,358.5 C165.2,355.7 162,352.9 160,349.8 C158,346.7 157.3,342.3 156.9,339.8 C156.5,337.3 156.6,336.9 157.5,334.8 C158.4,332.7 160.6,329.4 162.5,327.3 C164.4,325.2 167.3,323.9 168.7,322.3 C170,320.8 169.7,319.6 170.6,318 C171.5,316.4 172.2,314.6 174,313 C175.8,311.4 180,309.3 181.2,308.6"/>
<polyline points="170.6,318 192.4,329.8"/>
<path d="M192.4,329.8 C193.6,330.8 198.5,333.5 199.5,335.5 C200.5,337.5 200.1,340.2 198.5,342 C196.9,343.8 192.5,345.5 190,346.3 C187.5,347.1 185.9,346.8 183.7,346.6 C181.5,346.4 179.3,345.9 177,345 C174.7,344.1 171.2,341.7 170,341"/>
<polyline points="170,341 157.5,334.8"/>
<ellipse cx="184" cy="340.8" rx="2.2" ry="1.3" transform="rotate(25 184 340.8)"/>
<polyline points="181.2,365.5 305.9,293.2"/>
<polyline points="204.9,382.2 362,292.4"/>
<polyline points="312.5,402.4 386.5,361.5"/>
<ellipse cx="309" cy="280" rx="18.7" ry="11.8" transform="rotate(3 309 280)"/>
<ellipse cx="308.4" cy="283.7" rx="2.4" ry="1.3" transform="rotate(25 308.4 283.7)"/>
<path d="M202.4,313.6 C202.1,312.4 217.8,303.5 219.8,303.6 C221.8,303.7 242.6,314.9 242.9,316.1 C243.2,317.3 228.1,327.4 226.1,327.3 C224.1,327.2 202.7,314.8 202.4,313.6Z"/>
<path d="M246.6,295.5 C246.6,294.6 261.8,286.8 263.5,286.8 C265.2,286.8 279.7,294.6 279.7,295.5 C279.7,296.4 265.2,305.5 263.5,305.5 C261.8,305.5 246.6,296.4 246.6,295.5Z"/>
<ellipse cx="278.4" cy="327.3" rx="10.3" ry="6.2" transform="rotate(-15 278.4 327.3)"/>
<path d="M275,329 C274.8,328.2 273.2,325.4 273.5,324 C273.8,322.6 275.8,321 277,320.5 C278.2,320 279.4,320.6 280.5,321 C281.6,321.4 283,322.7 283.5,323"/>
<polygon points="232,377.2 236.5,374.2 240.6,375.6 241.4,380 236,383.5 236.5,387.5 222,387.5 221.5,381 225,380.5 226.5,383.5 232,380.5"/>
<path d="M254.7,368.5 C252.6,366 266.8,357.4 271,358.5 C275.2,359.6 314.9,382.2 317,384.7 C319.1,387.2 306.2,396.4 302,395.3 C297.8,394.2 256.8,371 254.7,368.5Z"/>
<path d="M291.5,346.6 C289.6,344.1 304.2,336.1 308.4,337.3 C312.6,338.5 352.6,361.6 354.5,364.1 C356.4,366.6 341.2,375.9 337,374.7 C332.8,373.5 293.4,349.1 291.5,346.6Z"/>
<polyline points="328.5,325.4 338.5,319.5 342.9,318.5 357.4,326.4"/>
<path d="M328.5,325.4 C328.6,325.9 328.2,327.6 329,328.5 C329.8,329.4 332.3,330.6 333,331"/>
<polyline points="333,331 372,354.5 374.6,353.5 377,353"/>
<ellipse cx="376.8" cy="329.1" rx="13.5" ry="8.6" transform="rotate(5 376.8 329.1)"/>
<ellipse cx="376.6" cy="331.1" rx="2.8" ry="1.4" transform="rotate(-10 376.6 331.1)"/>
<path d="M392.4,359.5 C391.4,359.4 388.1,359.5 386.5,358.8 C384.9,358.1 383.2,357.8 382.5,355.5 C381.8,353.2 381.6,347.3 382.5,344.9 C383.4,342.5 382.9,343.8 387.8,341 C392.7,338.2 407.6,330.5 411.6,328.4"/>
<polyline points="391.8,341 395.7,336.3"/>
<path d="M410.3,341 C411.2,340.2 418.9,335.1 420.8,334.4 C422.7,333.7 427.1,333.2 428.8,333.7 C430.5,334.2 436.1,338 438,339.6 C439.9,341.2 446.2,348.7 447.3,350.2 C448.4,351.7 449.8,353.1 448.6,354.2 C447.4,355.3 437.2,360.5 435.4,360.8 C433.5,361.1 432.5,358.7 430.1,356.8 C427.7,354.9 413.6,343.9 411.6,342.3 C409.6,340.7 409.4,341.8 410.3,341Z"/>
<path d="M379.2,376.1 L394.7,367.9 A2.6,2.6 0 0 0 392.3,363.3 L376.8,371.5 A2.6,2.6 0 0 0 379.2,376.1 Z"/>
<path d="M388.5,383.3 L405.0,374.6 A3.2,3.2 0 0 0 402.0,369.0 L385.5,377.7 A3.2,3.2 0 0 0 388.5,383.3 Z"/>
<path d="M398.7,397.6 L413.7,388.6 A4.2,4.2 0 0 0 409.3,381.4 L394.3,390.4 A4.2,4.2 0 0 0 398.7,397.6 Z"/>
<polyline points="375.9,362.1 386.5,361.5"/>
<polyline points="418.2,393.2 424.8,429.5"/>
<path d="M467.1,359.5 C465.9,360.6 461.8,363.6 460,366 C458.2,368.4 457.3,371.8 456.5,374 C455.7,376.2 455.4,378.4 455.2,379.3"/>
<path d="M455.2,380.6 C454.4,381.2 450.4,383.7 449.5,385 C448.6,386.3 448.7,384.1 448.6,390 C448.5,395.9 447.9,423.2 448.6,429.5 C449.3,435.8 452.1,435.9 453.9,437.4 C455.7,438.9 459.7,440.5 461.8,440.7 C463.9,440.9 468.4,440.2 470,439 C471.6,437.8 473.4,434 473.7,432 C474,430 473.8,430.7 472,424 C470.2,417.3 462.7,387.7 460.5,381.9 C458.3,376.1 455.9,380.8 455.2,380.6"/>
<path d="M467.1,368.7 C468,368.3 472.3,365.7 473.7,365.4 C475.1,365.1 476.3,365 477.7,366.1 C479.1,367.2 482.7,370.8 484.3,374 C485.9,377.2 489.1,386.9 489.6,389.9 C490.1,392.9 488.7,395.4 488.2,396.5 C487.7,397.6 487.7,398.5 485.6,397.8 C483.5,397.1 474.6,393 472.4,391.2 C470.2,389.4 469.8,386.9 469.1,384.6 C468.4,382.3 467.4,376.1 467.1,374 C466.8,371.9 467.1,369.4 467.1,368.7"/>
<polyline points="472.4,439.4 492.9,434.1"/>
<polyline points="430.1,439.4 450.6,439.4"/>
<path d="M382.5,459.9 C385.4,458.8 394.3,455.6 399.7,453.3 C405.1,451 410.6,448.2 415,446 C419.4,443.8 423.6,441.2 426.1,440.1 C428.6,439 429.4,439.5 430.1,439.4"/>
<polyline points="440,439.4 451,439.4"/>
<path d="M290,413.7 C291.1,413.1 296.1,410.2 298,409.3 C299.9,408.4 302.9,407.2 304.5,407 C306.1,406.8 308.8,407.5 310,408 C311.2,408.5 311.5,410.4 313.8,411 C316.1,411.6 324.4,411.6 327,412.3 C329.6,413 332.5,414.7 333.6,416.3 C334.7,417.9 335.1,422.4 334.9,424.2 C334.7,426 335.1,427.4 332.3,429.5 C329.5,431.6 316.3,438.7 313.8,440.1"/>
<polyline points="313.8,440.1 296.6,422.9 290,421.6"/>
<polyline points="296.6,422.2 314.4,412.3"/>
<path d="M290,413.7 C288.8,414.2 285,415.3 283,416.5 C281,417.7 278.3,419.6 278,421 C277.7,422.4 279.3,424.5 281,425 C282.7,425.5 286.5,424.6 288,424 C289.5,423.4 289.7,422 290,421.6"/>
<ellipse cx="283.5" cy="425.5" rx="5.5" ry="3.5" transform="rotate(-20 283.5 425.5)"/>
<polyline points="274,421 292,409"/>
<polyline points="310.2,501.5 380.1,461.2"/>
<path d="M416.9,215.8 C416.2,215.8 414,215.3 413,215.6 C412,215.8 411.1,216.7 411,217.3 C410.9,217.9 411.5,218.8 412.5,219 C413.5,219.2 416.2,218.8 416.9,218.8"/>
<ellipse cx="413.5" cy="217.3" rx="1.8" ry="1.2"/>
<polyline points="416.9,215.8 470.4,221.7 491.2,221"/>
<path d="M491.2,221 C494.7,219.3 507.6,212.7 512,210.6 C516.5,208.5 514.4,210.4 517.9,208.4 C521.4,206.4 526.8,201.8 532.8,198.7 C538.8,195.6 547.7,192.9 553.6,189.8 C559.5,186.7 564,182.9 568.4,180.1 C572.8,177.2 575.1,175.2 580.3,172.7 C585.5,170.2 595.9,166.9 599.6,165.3 C603.4,163.7 602.3,163.4 602.8,163"/>
<path d="M494,223 C497.2,221.4 508.7,215.5 513,213.5 C517.3,211.5 516.3,212.9 520,211 C523.7,209.1 529,205 535,202 C541,199 549.9,196 556,193 C562.1,190 566.6,186.7 571.4,184 C576.2,181.3 579.9,179.5 585,177 C590.1,174.5 598.2,171.1 602,169 C605.8,166.9 606.6,165.2 607.5,164.5"/>
<polyline points="602.8,163 612.2,158.2 616.9,158.2"/>
<path d="M616.9,158.2 C617.4,157.7 617.1,156.7 620,155.1 C622.9,153.5 630.8,149.9 634.2,148.8 C637.6,147.7 637.4,147.4 640.4,148.3 C643.4,149.2 647.8,151.8 652,154 C656.2,156.2 662.2,158.9 665.5,161.4 C668.8,163.9 670,165.8 671.8,169.2 C673.6,172.6 674.9,177.4 676.5,181.8 C678.1,186.2 679.6,191.5 681.2,195.9 C682.8,200.3 684.2,204.8 686,208.5 C687.8,212.2 691.2,216.3 692.2,217.9"/>
<path d="M692.2,217.9 C692.5,220.5 693,230.5 693.8,233.6 C694.6,236.7 695.3,235.6 696.9,236.7 C698.5,237.8 702,238.6 703.2,239.9 C704.4,241.2 704.5,243 704,244.6 C703.5,246.2 700.8,248.5 700.1,249.3"/>
<polyline points="700.1,249.3 648.3,276 643.6,275.2"/>
<path d="M643.6,275.2 C643.1,275.4 641.7,275.8 640.4,276.7 C639.1,277.6 636.7,279.2 635.7,280.7 C634.7,282.1 634.5,284.6 634.2,285.4"/>
<polyline points="634.2,285.4 594.9,307.3"/>
<path d="M594.9,307.3 C594.4,307.8 593.1,309.7 591.8,310.5 C590.5,311.3 588.7,312.3 587.1,312 C585.5,311.7 583.2,309.4 582.4,308.9"/>
<polyline points="582.4,308.9 571.4,308.9"/>
<path d="M571.4,308.9 C570.4,308.4 566.6,306.9 565.1,305.8 C563.6,304.7 563.5,303.6 562.5,302 C561.5,300.4 559.9,297.9 558.8,296.4 C557.7,294.9 557.6,294.2 555.7,293.2 C553.8,292.1 550.2,291.8 547.6,290.1 C545,288.4 542,285 540,283 C538,281 538,279.9 535.8,278.2 C533.6,276.5 532.2,275 526.8,273 C521.3,271 507.1,267.4 503.1,266.3"/>
<polyline points="503.1,266.3 464.4,244.8 441.4,246.2"/>
<path d="M416.9,218.8 C419.1,219.5 427.8,221.5 430.3,223.2 C432.8,224.9 431,227 431.7,229.2 C432.4,231.4 433.1,233.8 434.7,236.6 C436.3,239.4 440.3,244.6 441.4,246.2"/>
<polyline points="430.3,223.2 440.7,229.2 464.4,244.8"/>
<polyline points="443.6,225.4 458.5,225.4"/>
<ellipse cx="483" cy="233.6" rx="13" ry="6.7" transform="rotate(5 483 233.6)"/>
<ellipse cx="483" cy="233.6" rx="7.4" ry="4.1" transform="rotate(5 483 233.6)"/>
<ellipse cx="483" cy="233.6" rx="2" ry="1.2"/>
<path d="M460,225.4 C461.3,224.9 464.7,223 468,222.5 C471.3,222 478,222.5 480,222.5"/>
<path d="M463,237 C464,237.9 465.3,241.2 469,242.5 C472.7,243.8 480.5,244.6 485,244.5 C489.5,244.4 494.2,242.4 496,242"/>
<path d="M485.2,251.5 C486.8,251.2 490.9,250.3 495,250 C499.1,249.7 505.7,249.2 510,249.5 C514.3,249.8 519.7,250.4 520.9,251.5 C522.1,252.6 518.3,254.2 517,256 C515.7,257.8 514.5,260.5 513,262 C511.5,263.5 509.7,264.7 508,265 C506.3,265.3 503.8,264.2 503,264"/>
<path d="M503,254 C504.5,253.9 510.7,252.8 512,253.5 C513.3,254.2 512,256.6 511,258 C510,259.4 506.8,261.3 506,262"/>
<ellipse cx="503.5" cy="257.5" rx="2.2" ry="1.3"/>
<polyline points="485.2,251.5 498,258"/>
<path d="M495.6,230.6 C497.8,229.6 504.8,225.4 509,224.7 C513.2,224 516.9,224.5 520.9,226.2 C524.9,227.9 529.8,232.1 532.8,235.1 C535.8,238.1 536.7,240 538.7,244 C540.7,248 543.2,253.9 544.7,258.9 C546.2,263.8 546.4,268.8 547.6,273.7 C548.8,278.6 551.4,286.1 552.1,288.6"/>
<path d="M509,217.3 C511.5,217.6 518.9,217.1 523.9,218.8 C528.9,220.5 534.8,225 538.7,227.7 C542.7,230.4 545.1,232.4 547.6,235.1 C550.1,237.8 551.9,240 553.6,244 C555.3,248 556.5,254.2 558,258.9 C559.5,263.6 561.8,269.8 562.5,272"/>
<path d="M512,214.5 C514.5,214.8 522,214.3 526.8,216 C531.6,217.7 537,221.8 541,224.5 C545,227.2 547.9,229.1 550.5,232 C553.1,234.9 554.8,237.8 556.5,242 C558.2,246.2 559.5,252 561,257 C562.5,262 564.8,269.7 565.5,272.2"/>
<path d="M538.7,200.9 C540.7,200.7 546.1,197.9 550.6,199.4 C555.1,200.9 561.3,206.1 565.5,209.8 C569.7,213.5 572.9,217.2 575.9,221.7 C578.9,226.2 580.8,230.4 583.3,236.6 C585.8,242.8 588.7,253.7 590.7,258.9 C592.7,264.1 594.5,266.3 595.2,267.8"/>
<path d="M575.9,211.3 C577.1,213.3 580.6,217.8 583.3,223.2 C586,228.6 589.5,237.3 592.2,244 C594.9,250.7 598.5,260.1 599.7,263.3"/>
<ellipse cx="540.2" cy="211.3" rx="9.3" ry="5.6" transform="rotate(-10 540.2 211.3)"/>
<ellipse cx="573" cy="199.1" rx="16.9" ry="9" transform="rotate(3 573 199.1)"/>
<ellipse cx="573" cy="199.1" rx="8.6" ry="5.1" transform="rotate(3 573 199.1)"/>
<ellipse cx="573" cy="199.1" rx="3.3" ry="1.7" transform="rotate(-15 573 199.1)"/>
<ellipse cx="634.2" cy="166.9" rx="16.5" ry="8.6" transform="rotate(3 634.2 166.9)"/>
<ellipse cx="634.2" cy="166.9" rx="9" ry="5.1" transform="rotate(3 634.2 166.9)"/>
<ellipse cx="634.5" cy="166.9" rx="3" ry="1.5" transform="rotate(-20 634.5 166.9)"/>
<polyline points="607.5,164.5 616.9,170"/>
<path d="M546.2,224.7 C547.9,222.9 558,217.9 561,217.3 C564,216.7 567,218.6 568.4,220.2 C569.8,221.8 572.8,226.8 571.4,229.2 C570,231.6 561.1,237.9 558,238.1 C554.9,238.3 549.6,232.8 548,231 C546.4,229.2 544.5,226.5 546.2,224.7Z"/>
<polyline points="596.5,210 638.9,185.7"/>
<path d="M635.7,178.6 C637,180.2 641.5,184.2 643.6,188.1 C645.7,192 646.7,198 648.3,202.2 C649.9,206.4 651.4,209.5 653,213.2 C654.6,216.9 656.9,222.4 657.7,224.2"/>
<polyline points="657.7,224.2 613.8,249.3"/>
<path d="M613.8,249.3 C612.5,246.2 608.5,235.6 605.9,230.4 C603.3,225.2 600.4,221 598.1,217.9 C595.8,214.8 593,213 592,212"/>
<path d="M649.9,175.5 C650.4,176.8 652,180.3 653,183.4 C654,186.5 655.1,192 656.1,194.3 C657.1,196.7 657.2,197.2 659.3,197.5 C661.4,197.8 666.6,195.9 668.7,195.9 C670.8,195.9 670.8,195.9 671.8,197.5 C672.8,199.1 674,202.7 675,205.3 C676,207.9 677.1,211.5 678.1,213.2 C679.1,214.9 680.7,215.1 681.2,215.5"/>
<polyline points="653,177.1 668.7,169.2"/>
<polyline points="510.5,238.1 529.8,233.6"/>
<polyline points="519.4,244 531.3,238.8"/>
<polyline points="538.7,263.3 546.2,251.4"/>
<polyline points="544.7,276.7 555.1,270.8"/>
<polyline points="581.8,218.8 592.2,215.8"/>
<polyline points="595.2,209.8 605,203.9"/>
<polyline points="576.1,219.5 594.9,211.6"/>
<polyline points="624.7,250.8 678.1,222.6 686,217.9"/>
<polyline points="632.6,255.5 686,225.7 692,222"/>
<polyline points="634.2,271.2 695.4,236.7"/>
<polyline points="643.6,276 651.4,276 703.2,244.6"/>
<ellipse cx="670.3" cy="257.1" rx="3" ry="1.8" transform="rotate(-25 670.3 257.1)"/>
<polyline points="613.8,258.7 620,277.5"/>
<polyline points="624.7,252.4 629.5,272.8"/>
<polyline points="613.8,258.7 624.7,252.4"/>
<path d="M563.5,274.4 C566.1,274.7 574.5,276.5 579.2,276 C583.9,275.5 586.8,273.6 591.8,271.2 C596.8,268.8 604.9,263.9 609.1,261.8 C613.3,259.7 615.6,259.2 616.9,258.7"/>
<path d="M568.2,285.4 C571.4,284.6 581.8,282.4 587.1,280.7 C592.4,279 594.5,277.8 600,275 C605.5,272.2 616.7,265.8 620,264"/>
<polyline points="566.7,304.2 580.8,300 634.2,271.2"/>
<path d="M580.8,304.2 C581.8,303.9 584.8,302.1 587.1,302.6 C589.5,303.1 593.6,306.5 594.9,307.3"/>
<ellipse cx="586.5" cy="307.3" rx="2.5" ry="1.6"/>
<path d="M544.7,252.4 C546.3,254.2 551.9,260.1 554.1,263.4 C556.3,266.7 557,269.1 558,272 C559,274.9 560,279.2 560.4,280.7"/>
<polyline points="678.6,211.5 688.1,221 690,236.2"/>
<path d="M869,150 C869.3,148.8 870,145 871,143 C872,141 871.8,140.9 875,138.2 C878.2,135.5 885.2,130.4 890,127 C894.8,123.6 900.3,119.9 903.7,117.9 C907.1,116 908.2,115.6 910.5,115.3 C912.8,115 916.2,116 917.3,116.2"/>
<polyline points="917.3,116.2 949.4,132.3"/>
<path d="M949.4,132.3 C951.2,131.4 957.2,128.6 960,127 C962.8,125.5 965.1,124.7 966.4,123 C967.7,121.3 968.1,119 968,117 C967.9,115 967.1,112.5 966,111 C964.9,109.5 962.2,109.5 961.3,107.7 C960.4,105.9 960.6,102 960.5,100 C960.4,98 960.1,98.1 960.5,95.9 C960.9,93.7 961.6,89.8 963,87 C964.4,84.2 966.4,81.5 968.9,78.9 C971.4,76.3 976.7,72.6 978.2,71.3"/>
<polyline points="978.2,71.3 1017.2,49.3"/>
<path d="M1017.2,49.3 C1019.2,49.2 1025.2,47.5 1029,48.5 C1032.8,49.5 1036.9,52.9 1040,55 C1043.1,57.1 1046,59.2 1047.6,61.2 C1049.1,63.2 1049.6,65.1 1049.3,67.1 C1049,69.1 1046.5,72 1046,73"/>
<polyline points="1046,73 1025.6,98.4"/>
<path d="M1025.6,98.4 C1025.6,99.1 1024.5,100.5 1025.6,102.6 C1026.7,104.7 1031,108.3 1032.4,111.1 C1033.8,113.9 1034.7,116.8 1034.1,119.6 C1033.5,122.4 1029.8,126.6 1029,128"/>
<path d="M1029,128 C1028.2,129.7 1025.4,134.6 1024,138 C1022.6,141.4 1022.6,145.7 1020.6,148.3 C1018.6,150.9 1015.5,151.4 1012.1,153.4 C1008.7,155.4 1003.9,159.3 1000.2,160.2 C996.5,161 994.1,158.8 990.1,158.5 C986.1,158.2 981,156.8 976.5,158.5 C972,160.2 967.5,165.3 963,168.7 C958.5,172.1 953.6,175.7 949.4,178.8 C945.2,181.9 941.3,185.8 937.6,187.3 C933.9,188.9 931.9,188.4 927.4,188.1 C922.9,187.8 915.9,187.4 910.5,185.6 C905.1,183.8 901.2,180.8 895.3,177.1 C889.4,173.4 879.2,167 875,163.6 C870.8,160.2 870.9,159.1 869.9,156.8 C868.9,154.5 869.1,151.1 869,150"/>
<ellipse cx="911.4" cy="138.2" rx="12.7" ry="9.3" transform="rotate(-8 911.4 138.2)"/>
<path d="M908,139.5 C908.7,139 911,136.9 912,136.5 C913,136.1 913.7,136.9 914,137"/>
<ellipse cx="922.4" cy="169.5" rx="16.1" ry="10.6" transform="rotate(5 922.4 169.5)"/>
<polyline points="921,167 924,166.5"/>
<ellipse cx="1020.6" cy="71.3" rx="14.8" ry="8.5" transform="rotate(5 1020.6 71.3)"/>
<polyline points="1018.5,68.5 1022.5,67"/>
<ellipse cx="984.2" cy="142.4" rx="11.4" ry="6.8" transform="rotate(-5 984.2 142.4)"/>
<ellipse cx="984.2" cy="142.8" rx="2.6" ry="4"/>
<polygon points="889,148 895,145 897.5,152 893,155.5 890.5,160.2 880,159.5 880.5,150.5 884,150 886.5,154 890,153"/>
<path d="M969.8,126.3 C970.7,123.3 974,114.8 976,110 C978,105.2 980.9,97.8 983.3,94.2 C985.7,90.6 988.8,87.2 991.8,85.7 C994.8,84.2 1000.8,83.5 1003.6,84 C1006.4,84.5 1009.9,87.8 1010.4,89.1 C1010.9,90.4 1009.8,89.7 1007,92.5 C1004.2,95.3 995.4,102.4 991.8,107.7 C988.2,113 985.6,124.3 983.3,128 C981,131.7 978.5,132 976.5,132.3 C974.5,132.6 970.8,130.6 969.8,129.7 C968.8,128.8 968.9,129.3 969.8,126.3Z"/>
<path d="M995.2,139.9 C996,136.1 1001.1,125.9 1003.6,121.3 C1006.1,116.7 1009.6,111.7 1012.1,109.4 C1014.6,107.1 1018.6,105.7 1020.6,106 C1022.6,106.3 1025.4,109.1 1025.6,111.1 C1025.8,113.1 1023.7,116 1022.2,119.6 C1020.7,123.2 1017.8,130.7 1015.5,134.8 C1013.2,138.9 1009.5,144.9 1007,146.7 C1004.5,148.5 1000.3,147.7 998.5,146.7 C996.7,145.7 994.4,143.7 995.2,139.9Z"/>
<path d="M953,155 C953.4,153.9 956.3,151.1 958,150 C959.7,148.9 963.7,147.1 966,147 C968.3,146.9 972.5,148.2 975,149 C977.5,149.8 982.7,152.1 985,153 C987.3,153.9 991.2,155.3 992,156 C992.8,156.7 993.3,158.3 991,158 C988.7,157.7 978.6,153.5 975,153.5 C971.4,153.5 966.7,157.4 964,158 C961.3,158.6 956.5,158.4 955,158 C953.5,157.6 952.6,156.1 953,155Z"/>
<path d="M929,129.5 C929.8,128.7 933,127.1 935,127 C937,126.9 942,128.3 944,129 C946,129.7 948.1,131.5 950,132 C951.9,132.5 955.9,132.2 958,132.5 C960.1,132.8 964.8,133.3 966,134 C967.2,134.7 967.8,137.2 967,138 C966.2,138.8 962.3,140.1 960,140 C957.7,139.9 952.7,137.6 950,137 C947.3,136.4 942.3,135.6 940,135.5 C937.7,135.4 934.5,136.3 933,136 C931.5,135.7 929.5,133.9 929,133 C928.5,132.1 928.2,130.3 929,129.5Z"/>
<polyline points="932.5,126.3 991.8,156.8"/>
<polyline points="973,83 985,90.5"/>
<polyline points="999,102 1010,108.5"/>
</g>
<g>
<text transform="matrix(1 0 0 1 641.6 115.5)">REF.60-640</text>
<text transform="matrix(1 0 0 1 775.8 161)">28793</text>
<text transform="matrix(1 0 0 1 796 233.8)">1327AC</text>
<text transform="matrix(1 0 0 1 1553.4 235.8)">28761</text>
<text transform="matrix(1 0 0 1 526.9 408.8)">28792A</text>
<text transform="matrix(1 0 0 1 80 449)">56146</text>
<text transform="matrix(1 0 0 1 134 495)">1327AC</text>
<text transform="matrix(1 0 0 1 411.6 569.5)">56146</text>
<text transform="matrix(1 0 0 1 222.7 593.9)">31129T</text>
<text transform="matrix(1 0 0 1 913.9 382.9)">28700D</text>
<text transform="matrix(1 0 0 1 1278.4 392.9)">55145D</text>
<text transform="matrix(1 0 0 1 1280.3 410.2)">28696A</text>
<text transform="matrix(1 0 0 1 1148.5 448)">28751D</text>
<text transform="matrix(1 0 0 1 1494.7 447.8)">28762</text>
<text transform="matrix(1 0 0 1 1436 546.7)">28768</text>
<text transform="matrix(1 0 0 1 1445.6 612.6)">28730H</text>
<text transform="matrix(1 0 0 1 614.4 576.8)">28785</text>
<text transform="matrix(1 0 0 1 686.4 622)">28658</text>
<text transform="matrix(1 0 0 1 524.2 699.4)">1339CD</text>
<text transform="matrix(1 0 0 1 331.4 741.6)">(140201-150603)</text>
<text transform="matrix(1 0 0 1 374.1 840.7)">28751D</text>
<text transform="matrix(1 0 0 1 236.6 812.6)">1317DA</text>
<text transform="matrix(1 0 0 1 156 900.3)">28751D</text>
<text transform="matrix(1 0 0 1 410.9 977.2)">28751C</text>
<text transform="matrix(1 0 0 1 584.4 955.2)">1317DA</text>
<text transform="matrix(1 0 0 1 245.7 1030.4)">28768</text>
<text transform="matrix(1 0 0 1 329.7 1086.4)">28611C</text>
<text transform="matrix(1 0 0 1 1290 889.4)">28997D</text>
<text transform="matrix(1 0 0 1 1280.3 937.7)">28997C</text>
<text transform="matrix(1 0 0 1 1169.7 980.7)">28900</text>
<text transform="matrix(1 0 0 1 34.6 51.6)" style="letter-spacing:0.2px;">(6 SPEED 4WD )</text>
<text transform="matrix(1 0 0 1 115.8 1125.8)" style="font-weight:bold;font-size:31px;letter-spacing:-0.9px;">FR.</text>
<text transform="matrix(1 0 0 1 136.1 992.7)">A</text>
<text transform="matrix(1 0 0 1 1680 1055.6)">A</text>
</g>
</svg>
</body></html>
